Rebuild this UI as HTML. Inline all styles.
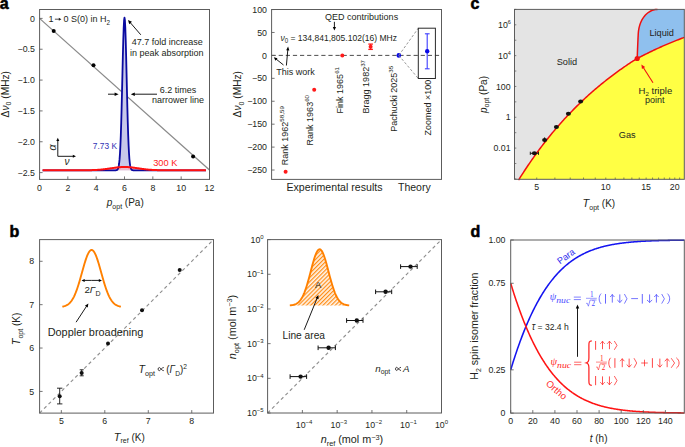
<!DOCTYPE html>
<html><head><meta charset="utf-8"><style>
html,body{margin:0;padding:0;background:#fff;width:685px;height:447px;overflow:hidden}
svg{display:block;font-family:"Liberation Sans",sans-serif}
</style></head><body>
<svg width="685" height="447" viewBox="0 0 685 447">
<rect width="685" height="447" fill="#fff"/>
<text x="-0.30" y="8.60" font-size="16" fill="#000" font-weight="bold"  stroke="#000" stroke-width="0.55">a</text>
<line x1="39.50" y1="18.40" x2="209.50" y2="170.00" stroke="#8a8a8a" stroke-width="1.25" />
<path d="M112.62,170.30 L113.03,170.30 L113.44,170.30 L113.85,170.30 L114.26,170.30 L114.67,170.30 L115.08,170.29 L115.49,170.28 L115.90,170.25 L116.30,170.19 L116.71,170.08 L117.12,169.88 L117.53,169.50 L117.94,168.84 L118.35,167.74 L118.76,165.97 L119.17,163.23 L119.58,159.17 L119.99,153.40 L120.40,145.55 L120.81,135.35 L121.22,122.70 L121.63,107.79 L122.04,91.12 L122.45,73.58 L122.85,56.36 L123.26,40.86 L123.67,28.48 L124.08,20.45 L124.49,17.60 L124.90,20.24 L125.31,28.08 L125.72,40.32 L126.13,55.73 L126.54,72.91 L126.95,90.46 L127.36,107.18 L127.77,122.17 L128.18,134.91 L128.59,145.21 L129.00,153.14 L129.40,158.98 L129.81,163.10 L130.22,165.88 L130.63,167.69 L131.04,168.81 L131.45,169.48 L131.86,169.87 L132.27,170.08 L132.68,170.19 L133.09,170.25 L133.50,170.28 L133.91,170.29 L134.32,170.30 L134.73,170.30 L135.14,170.30 L135.55,170.30 L135.95,170.30 L136.36,170.30Z" fill="#c9c9ea" stroke="none" />
<path d="M84.78,170.26 L85.19,170.25 L85.60,170.25 L86.01,170.24 L86.42,170.24 L86.83,170.23 L87.24,170.23 L87.65,170.22 L88.06,170.21 L88.47,170.21 L88.88,170.20 L89.29,170.19 L89.70,170.18 L90.10,170.17 L90.51,170.16 L90.92,170.15 L91.33,170.14 L91.74,170.13 L92.15,170.11 L92.56,170.10 L92.97,170.08 L93.38,170.07 L93.79,170.05 L94.20,170.03 L94.61,170.02 L95.02,170.00 L95.43,169.98 L95.84,169.95 L96.25,169.93 L96.65,169.91 L97.06,169.88 L97.47,169.86 L97.88,169.83 L98.29,169.80 L98.70,169.77 L99.11,169.74 L99.52,169.70 L99.93,169.67 L100.34,169.63 L100.75,169.60 L101.16,169.56 L101.57,169.52 L101.98,169.48 L102.39,169.44 L102.80,169.39 L103.20,169.35 L103.61,169.30 L104.02,169.26 L104.43,169.21 L104.84,169.16 L105.25,169.11 L105.66,169.05 L106.07,169.00 L106.48,168.95 L106.89,168.89 L107.30,168.83 L107.71,168.78 L108.12,168.72 L108.53,168.66 L108.94,168.60 L109.35,168.54 L109.75,168.48 L110.16,168.42 L110.57,168.36 L110.98,168.30 L111.39,168.24 L111.80,168.18 L112.21,168.12 L112.62,168.06 L113.03,168.00 L113.44,167.94 L113.85,167.88 L114.26,167.83 L114.67,167.77 L115.08,167.71 L115.49,167.66 L115.90,167.61 L116.30,167.56 L116.71,167.51 L117.12,167.46 L117.53,167.41 L117.94,167.37 L118.35,167.33 L118.76,167.29 L119.17,167.25 L119.58,167.21 L119.99,167.18 L120.40,167.15 L120.81,167.12 L121.22,167.10 L121.63,167.07 L122.04,167.05 L122.45,167.04 L122.85,167.02 L123.26,167.01 L123.67,167.01 L124.08,167.00 L124.49,167.00 L124.90,167.00 L125.31,167.01 L125.72,167.01 L126.13,167.02 L126.54,167.04 L126.95,167.05 L127.36,167.07 L127.77,167.10 L128.18,167.12 L128.59,167.15 L129.00,167.18 L129.40,167.21 L129.81,167.25 L130.22,167.28 L130.63,167.32 L131.04,167.37 L131.45,167.41 L131.86,167.46 L132.27,167.50 L132.68,167.55 L133.09,167.60 L133.50,167.66 L133.91,167.71 L134.32,167.77 L134.73,167.82 L135.14,167.88 L135.55,167.94 L135.95,168.00 L136.36,168.06 L136.77,168.12 L137.18,168.18 L137.59,168.24 L138.00,168.30 L138.41,168.36 L138.82,168.42 L139.23,168.48 L139.64,168.54 L140.05,168.60 L140.46,168.66 L140.87,168.72 L141.28,168.78 L141.69,168.83 L142.10,168.89 L142.50,168.94 L142.91,169.00 L143.32,169.05 L143.73,169.10 L144.14,169.15 L144.55,169.20 L144.96,169.25 L145.37,169.30 L145.78,169.35 L146.19,169.39 L146.60,169.44 L147.01,169.48 L147.42,169.52 L147.83,169.56 L148.24,169.60 L148.65,169.63 L149.05,169.67 L149.46,169.70 L149.87,169.74 L150.28,169.77 L150.69,169.80 L151.10,169.83 L151.51,169.85 L151.92,169.88 L152.33,169.91 L152.74,169.93 L153.15,169.95 L153.56,169.97 L153.97,170.00 L154.38,170.01 L154.79,170.03 L155.20,170.05 L155.60,170.07 L156.01,170.08 L156.42,170.10 L156.83,170.11 L157.24,170.13 L157.65,170.14 L158.06,170.15 L158.47,170.16 L158.88,170.17 L159.29,170.18 L159.70,170.19 L160.11,170.20 L160.52,170.21 L160.93,170.21 L161.34,170.22 L161.75,170.23 L162.15,170.23 L162.56,170.24 L162.97,170.24 L163.38,170.25 L163.79,170.25 L164.20,170.26Z" fill="#f3b8c8" stroke="none" opacity="0.85"/>
<path d="M42.62,170.30 L43.03,170.30 L43.44,170.30 L43.84,170.30 L44.25,170.30 L44.66,170.30 L45.07,170.30 L45.48,170.30 L45.89,170.30 L46.30,170.30 L46.71,170.30 L47.12,170.30 L47.53,170.30 L47.94,170.30 L48.35,170.30 L48.76,170.30 L49.17,170.30 L49.58,170.30 L49.99,170.30 L50.39,170.30 L50.80,170.30 L51.21,170.30 L51.62,170.30 L52.03,170.30 L52.44,170.30 L52.85,170.30 L53.26,170.30 L53.67,170.30 L54.08,170.30 L54.49,170.30 L54.90,170.30 L55.31,170.30 L55.72,170.30 L56.13,170.30 L56.54,170.30 L56.94,170.30 L57.35,170.30 L57.76,170.30 L58.17,170.30 L58.58,170.30 L58.99,170.30 L59.40,170.30 L59.81,170.30 L60.22,170.30 L60.63,170.30 L61.04,170.30 L61.45,170.30 L61.86,170.30 L62.27,170.30 L62.68,170.30 L63.09,170.30 L63.49,170.30 L63.90,170.30 L64.31,170.30 L64.72,170.30 L65.13,170.30 L65.54,170.30 L65.95,170.30 L66.36,170.30 L66.77,170.30 L67.18,170.30 L67.59,170.30 L68.00,170.30 L68.41,170.30 L68.82,170.30 L69.23,170.30 L69.64,170.30 L70.04,170.30 L70.45,170.30 L70.86,170.30 L71.27,170.30 L71.68,170.30 L72.09,170.30 L72.50,170.30 L72.91,170.30 L73.32,170.30 L73.73,170.30 L74.14,170.30 L74.55,170.30 L74.96,170.30 L75.37,170.30 L75.78,170.30 L76.19,170.30 L76.60,170.30 L77.00,170.30 L77.41,170.30 L77.82,170.30 L78.23,170.30 L78.64,170.30 L79.05,170.30 L79.46,170.30 L79.87,170.30 L80.28,170.30 L80.69,170.30 L81.10,170.30 L81.51,170.30 L81.92,170.30 L82.33,170.30 L82.74,170.30 L83.15,170.30 L83.55,170.30 L83.96,170.30 L84.37,170.30 L84.78,170.30 L85.19,170.30 L85.60,170.30 L86.01,170.30 L86.42,170.30 L86.83,170.30 L87.24,170.30 L87.65,170.30 L88.06,170.30 L88.47,170.30 L88.88,170.30 L89.29,170.30 L89.70,170.30 L90.10,170.30 L90.51,170.30 L90.92,170.30 L91.33,170.30 L91.74,170.30 L92.15,170.30 L92.56,170.30 L92.97,170.30 L93.38,170.30 L93.79,170.30 L94.20,170.30 L94.61,170.30 L95.02,170.30 L95.43,170.30 L95.84,170.30 L96.25,170.30 L96.65,170.30 L97.06,170.30 L97.47,170.30 L97.88,170.30 L98.29,170.30 L98.70,170.30 L99.11,170.30 L99.52,170.30 L99.93,170.30 L100.34,170.30 L100.75,170.30 L101.16,170.30 L101.57,170.30 L101.98,170.30 L102.39,170.30 L102.80,170.30 L103.20,170.30 L103.61,170.30 L104.02,170.30 L104.43,170.30 L104.84,170.30 L105.25,170.30 L105.66,170.30 L106.07,170.30 L106.48,170.30 L106.89,170.30 L107.30,170.30 L107.71,170.30 L108.12,170.30 L108.53,170.30 L108.94,170.30 L109.35,170.30 L109.75,170.30 L110.16,170.30 L110.57,170.30 L110.98,170.30 L111.39,170.30 L111.80,170.30 L112.21,170.30 L112.62,170.30 L113.03,170.30 L113.44,170.30 L113.85,170.30 L114.26,170.30 L114.67,170.30 L115.08,170.29 L115.49,170.28 L115.90,170.25 L116.30,170.19 L116.71,170.08 L117.12,169.88 L117.53,169.50 L117.94,168.84 L118.35,167.74 L118.76,165.97 L119.17,163.23 L119.58,159.17 L119.99,153.40 L120.40,145.55 L120.81,135.35 L121.22,122.70 L121.63,107.79 L122.04,91.12 L122.45,73.58 L122.85,56.36 L123.26,40.86 L123.67,28.48 L124.08,20.45 L124.49,17.60 L124.90,20.24 L125.31,28.08 L125.72,40.32 L126.13,55.73 L126.54,72.91 L126.95,90.46 L127.36,107.18 L127.77,122.17 L128.18,134.91 L128.59,145.21 L129.00,153.14 L129.40,158.98 L129.81,163.10 L130.22,165.88 L130.63,167.69 L131.04,168.81 L131.45,169.48 L131.86,169.87 L132.27,170.08 L132.68,170.19 L133.09,170.25 L133.50,170.28 L133.91,170.29 L134.32,170.30 L134.73,170.30 L135.14,170.30 L135.55,170.30 L135.95,170.30 L136.36,170.30 L136.77,170.30 L137.18,170.30 L137.59,170.30 L138.00,170.30 L138.41,170.30 L138.82,170.30 L139.23,170.30 L139.64,170.30 L140.05,170.30 L140.46,170.30 L140.87,170.30 L141.28,170.30 L141.69,170.30 L142.10,170.30 L142.50,170.30 L142.91,170.30 L143.32,170.30 L143.73,170.30 L144.14,170.30 L144.55,170.30 L144.96,170.30 L145.37,170.30 L145.78,170.30 L146.19,170.30 L146.60,170.30 L147.01,170.30 L147.42,170.30 L147.83,170.30 L148.24,170.30 L148.65,170.30 L149.05,170.30 L149.46,170.30 L149.87,170.30 L150.28,170.30 L150.69,170.30 L151.10,170.30 L151.51,170.30 L151.92,170.30 L152.33,170.30 L152.74,170.30 L153.15,170.30 L153.56,170.30 L153.97,170.30 L154.38,170.30 L154.79,170.30 L155.20,170.30 L155.60,170.30 L156.01,170.30 L156.42,170.30 L156.83,170.30 L157.24,170.30 L157.65,170.30 L158.06,170.30 L158.47,170.30 L158.88,170.30 L159.29,170.30 L159.70,170.30 L160.11,170.30 L160.52,170.30 L160.93,170.30 L161.34,170.30 L161.75,170.30 L162.15,170.30 L162.56,170.30 L162.97,170.30 L163.38,170.30 L163.79,170.30 L164.20,170.30 L164.61,170.30 L165.02,170.30 L165.43,170.30 L165.84,170.30 L166.25,170.30 L166.66,170.30 L167.07,170.30 L167.48,170.30 L167.89,170.30 L168.30,170.30 L168.70,170.30 L169.11,170.30 L169.52,170.30 L169.93,170.30 L170.34,170.30 L170.75,170.30 L171.16,170.30 L171.57,170.30 L171.98,170.30 L172.39,170.30 L172.80,170.30 L173.21,170.30 L173.62,170.30 L174.03,170.30 L174.44,170.30 L174.85,170.30 L175.26,170.30 L175.66,170.30 L176.07,170.30 L176.48,170.30 L176.89,170.30 L177.30,170.30 L177.71,170.30 L178.12,170.30 L178.53,170.30 L178.94,170.30 L179.35,170.30 L179.76,170.30 L180.17,170.30 L180.58,170.30 L180.99,170.30 L181.40,170.30 L181.81,170.30 L182.21,170.30 L182.62,170.30 L183.03,170.30 L183.44,170.30 L183.85,170.30 L184.26,170.30 L184.67,170.30 L185.08,170.30 L185.49,170.30 L185.90,170.30 L186.31,170.30 L186.72,170.30 L187.13,170.30 L187.54,170.30 L187.95,170.30 L188.36,170.30 L188.76,170.30 L189.17,170.30 L189.58,170.30 L189.99,170.30 L190.40,170.30 L190.81,170.30 L191.22,170.30 L191.63,170.30 L192.04,170.30 L192.45,170.30 L192.86,170.30 L193.27,170.30 L193.68,170.30 L194.09,170.30 L194.50,170.30 L194.91,170.30 L195.31,170.30 L195.72,170.30 L196.13,170.30 L196.54,170.30 L196.95,170.30 L197.36,170.30 L197.77,170.30 L198.18,170.30 L198.59,170.30 L199.00,170.30 L199.41,170.30 L199.82,170.30 L200.23,170.30 L200.64,170.30 L201.05,170.30 L201.46,170.30 L201.86,170.30 L202.27,170.30 L202.68,170.30 L203.09,170.30 L203.50,170.30 L203.91,170.30 L204.32,170.30 L204.73,170.30 L205.14,170.30 L205.55,170.30 L205.96,170.30" stroke="#0a0aa0" stroke-width="1.8" fill="none" stroke-linejoin="round"/>
<path d="M42.62,170.30 L43.03,170.30 L43.44,170.30 L43.84,170.30 L44.25,170.30 L44.66,170.30 L45.07,170.30 L45.48,170.30 L45.89,170.30 L46.30,170.30 L46.71,170.30 L47.12,170.30 L47.53,170.30 L47.94,170.30 L48.35,170.30 L48.76,170.30 L49.17,170.30 L49.58,170.30 L49.99,170.30 L50.39,170.30 L50.80,170.30 L51.21,170.30 L51.62,170.30 L52.03,170.30 L52.44,170.30 L52.85,170.30 L53.26,170.30 L53.67,170.30 L54.08,170.30 L54.49,170.30 L54.90,170.30 L55.31,170.30 L55.72,170.30 L56.13,170.30 L56.54,170.30 L56.94,170.30 L57.35,170.30 L57.76,170.30 L58.17,170.30 L58.58,170.30 L58.99,170.30 L59.40,170.30 L59.81,170.30 L60.22,170.30 L60.63,170.30 L61.04,170.30 L61.45,170.30 L61.86,170.30 L62.27,170.30 L62.68,170.30 L63.09,170.30 L63.49,170.30 L63.90,170.30 L64.31,170.30 L64.72,170.30 L65.13,170.30 L65.54,170.30 L65.95,170.30 L66.36,170.30 L66.77,170.30 L67.18,170.30 L67.59,170.30 L68.00,170.30 L68.41,170.30 L68.82,170.30 L69.23,170.30 L69.64,170.30 L70.04,170.30 L70.45,170.30 L70.86,170.30 L71.27,170.30 L71.68,170.30 L72.09,170.30 L72.50,170.30 L72.91,170.30 L73.32,170.30 L73.73,170.30 L74.14,170.30 L74.55,170.30 L74.96,170.30 L75.37,170.30 L75.78,170.30 L76.19,170.29 L76.60,170.29 L77.00,170.29 L77.41,170.29 L77.82,170.29 L78.23,170.29 L78.64,170.29 L79.05,170.29 L79.46,170.29 L79.87,170.29 L80.28,170.28 L80.69,170.28 L81.10,170.28 L81.51,170.28 L81.92,170.28 L82.33,170.27 L82.74,170.27 L83.15,170.27 L83.55,170.27 L83.96,170.26 L84.37,170.26 L84.78,170.26 L85.19,170.25 L85.60,170.25 L86.01,170.24 L86.42,170.24 L86.83,170.23 L87.24,170.23 L87.65,170.22 L88.06,170.21 L88.47,170.21 L88.88,170.20 L89.29,170.19 L89.70,170.18 L90.10,170.17 L90.51,170.16 L90.92,170.15 L91.33,170.14 L91.74,170.13 L92.15,170.11 L92.56,170.10 L92.97,170.08 L93.38,170.07 L93.79,170.05 L94.20,170.03 L94.61,170.02 L95.02,170.00 L95.43,169.98 L95.84,169.95 L96.25,169.93 L96.65,169.91 L97.06,169.88 L97.47,169.86 L97.88,169.83 L98.29,169.80 L98.70,169.77 L99.11,169.74 L99.52,169.70 L99.93,169.67 L100.34,169.63 L100.75,169.60 L101.16,169.56 L101.57,169.52 L101.98,169.48 L102.39,169.44 L102.80,169.39 L103.20,169.35 L103.61,169.30 L104.02,169.26 L104.43,169.21 L104.84,169.16 L105.25,169.11 L105.66,169.05 L106.07,169.00 L106.48,168.95 L106.89,168.89 L107.30,168.83 L107.71,168.78 L108.12,168.72 L108.53,168.66 L108.94,168.60 L109.35,168.54 L109.75,168.48 L110.16,168.42 L110.57,168.36 L110.98,168.30 L111.39,168.24 L111.80,168.18 L112.21,168.12 L112.62,168.06 L113.03,168.00 L113.44,167.94 L113.85,167.88 L114.26,167.83 L114.67,167.77 L115.08,167.71 L115.49,167.66 L115.90,167.61 L116.30,167.56 L116.71,167.51 L117.12,167.46 L117.53,167.41 L117.94,167.37 L118.35,167.33 L118.76,167.29 L119.17,167.25 L119.58,167.21 L119.99,167.18 L120.40,167.15 L120.81,167.12 L121.22,167.10 L121.63,167.07 L122.04,167.05 L122.45,167.04 L122.85,167.02 L123.26,167.01 L123.67,167.01 L124.08,167.00 L124.49,167.00 L124.90,167.00 L125.31,167.01 L125.72,167.01 L126.13,167.02 L126.54,167.04 L126.95,167.05 L127.36,167.07 L127.77,167.10 L128.18,167.12 L128.59,167.15 L129.00,167.18 L129.40,167.21 L129.81,167.25 L130.22,167.28 L130.63,167.32 L131.04,167.37 L131.45,167.41 L131.86,167.46 L132.27,167.50 L132.68,167.55 L133.09,167.60 L133.50,167.66 L133.91,167.71 L134.32,167.77 L134.73,167.82 L135.14,167.88 L135.55,167.94 L135.95,168.00 L136.36,168.06 L136.77,168.12 L137.18,168.18 L137.59,168.24 L138.00,168.30 L138.41,168.36 L138.82,168.42 L139.23,168.48 L139.64,168.54 L140.05,168.60 L140.46,168.66 L140.87,168.72 L141.28,168.78 L141.69,168.83 L142.10,168.89 L142.50,168.94 L142.91,169.00 L143.32,169.05 L143.73,169.10 L144.14,169.15 L144.55,169.20 L144.96,169.25 L145.37,169.30 L145.78,169.35 L146.19,169.39 L146.60,169.44 L147.01,169.48 L147.42,169.52 L147.83,169.56 L148.24,169.60 L148.65,169.63 L149.05,169.67 L149.46,169.70 L149.87,169.74 L150.28,169.77 L150.69,169.80 L151.10,169.83 L151.51,169.85 L151.92,169.88 L152.33,169.91 L152.74,169.93 L153.15,169.95 L153.56,169.97 L153.97,170.00 L154.38,170.01 L154.79,170.03 L155.20,170.05 L155.60,170.07 L156.01,170.08 L156.42,170.10 L156.83,170.11 L157.24,170.13 L157.65,170.14 L158.06,170.15 L158.47,170.16 L158.88,170.17 L159.29,170.18 L159.70,170.19 L160.11,170.20 L160.52,170.21 L160.93,170.21 L161.34,170.22 L161.75,170.23 L162.15,170.23 L162.56,170.24 L162.97,170.24 L163.38,170.25 L163.79,170.25 L164.20,170.26 L164.61,170.26 L165.02,170.26 L165.43,170.27 L165.84,170.27 L166.25,170.27 L166.66,170.27 L167.07,170.28 L167.48,170.28 L167.89,170.28 L168.30,170.28 L168.70,170.28 L169.11,170.29 L169.52,170.29 L169.93,170.29 L170.34,170.29 L170.75,170.29 L171.16,170.29 L171.57,170.29 L171.98,170.29 L172.39,170.29 L172.80,170.29 L173.21,170.30 L173.62,170.30 L174.03,170.30 L174.44,170.30 L174.85,170.30 L175.26,170.30 L175.66,170.30 L176.07,170.30 L176.48,170.30 L176.89,170.30 L177.30,170.30 L177.71,170.30 L178.12,170.30 L178.53,170.30 L178.94,170.30 L179.35,170.30 L179.76,170.30 L180.17,170.30 L180.58,170.30 L180.99,170.30 L181.40,170.30 L181.81,170.30 L182.21,170.30 L182.62,170.30 L183.03,170.30 L183.44,170.30 L183.85,170.30 L184.26,170.30 L184.67,170.30 L185.08,170.30 L185.49,170.30 L185.90,170.30 L186.31,170.30 L186.72,170.30 L187.13,170.30 L187.54,170.30 L187.95,170.30 L188.36,170.30 L188.76,170.30 L189.17,170.30 L189.58,170.30 L189.99,170.30 L190.40,170.30 L190.81,170.30 L191.22,170.30 L191.63,170.30 L192.04,170.30 L192.45,170.30 L192.86,170.30 L193.27,170.30 L193.68,170.30 L194.09,170.30 L194.50,170.30 L194.91,170.30 L195.31,170.30 L195.72,170.30 L196.13,170.30 L196.54,170.30 L196.95,170.30 L197.36,170.30 L197.77,170.30 L198.18,170.30 L198.59,170.30 L199.00,170.30 L199.41,170.30 L199.82,170.30 L200.23,170.30 L200.64,170.30 L201.05,170.30 L201.46,170.30 L201.86,170.30 L202.27,170.30 L202.68,170.30 L203.09,170.30 L203.50,170.30 L203.91,170.30 L204.32,170.30 L204.73,170.30 L205.14,170.30 L205.55,170.30 L205.96,170.30" stroke="#ff1010" stroke-width="2.0" fill="none" stroke-linejoin="round"/>
<circle cx="53.70" cy="30.90" r="2.0" fill="#000" />
<circle cx="93.50" cy="65.30" r="2.0" fill="#000" />
<circle cx="193.10" cy="156.50" r="2.0" fill="#000" />
<rect x="39.60" y="9.50" width="169.90" height="169.90" fill="none" stroke="#5c5c5c" stroke-width="1"/>
<line x1="39.60" y1="18.40" x2="42.60" y2="18.40" stroke="#5c5c5c" stroke-width="0.85" />
<text x="34.90" y="21.50" font-size="8.8" fill="#231f20" text-anchor="end" >0</text>
<line x1="39.60" y1="49.24" x2="42.60" y2="49.24" stroke="#5c5c5c" stroke-width="0.85" />
<text x="34.90" y="52.34" font-size="8.8" fill="#231f20" text-anchor="end" >−0.5</text>
<line x1="39.60" y1="80.08" x2="42.60" y2="80.08" stroke="#5c5c5c" stroke-width="0.85" />
<text x="34.90" y="83.18" font-size="8.8" fill="#231f20" text-anchor="end" >−1.0</text>
<line x1="39.60" y1="110.92" x2="42.60" y2="110.92" stroke="#5c5c5c" stroke-width="0.85" />
<text x="34.90" y="114.02" font-size="8.8" fill="#231f20" text-anchor="end" >−1.5</text>
<line x1="39.60" y1="141.76" x2="42.60" y2="141.76" stroke="#5c5c5c" stroke-width="0.85" />
<text x="34.90" y="144.86" font-size="8.8" fill="#231f20" text-anchor="end" >−2.0</text>
<line x1="39.60" y1="172.60" x2="42.60" y2="172.60" stroke="#5c5c5c" stroke-width="0.85" />
<text x="34.90" y="175.70" font-size="8.8" fill="#231f20" text-anchor="end" >−2.5</text>
<line x1="39.50" y1="179.40" x2="39.50" y2="176.40" stroke="#5c5c5c" stroke-width="0.85" />
<text x="39.50" y="190.80" font-size="8.8" fill="#231f20" text-anchor="middle" >0</text>
<line x1="67.83" y1="179.40" x2="67.83" y2="176.40" stroke="#5c5c5c" stroke-width="0.85" />
<text x="67.83" y="190.80" font-size="8.8" fill="#231f20" text-anchor="middle" >2</text>
<line x1="96.17" y1="179.40" x2="96.17" y2="176.40" stroke="#5c5c5c" stroke-width="0.85" />
<text x="96.17" y="190.80" font-size="8.8" fill="#231f20" text-anchor="middle" >4</text>
<line x1="124.50" y1="179.40" x2="124.50" y2="176.40" stroke="#5c5c5c" stroke-width="0.85" />
<text x="124.50" y="190.80" font-size="8.8" fill="#231f20" text-anchor="middle" >6</text>
<line x1="152.83" y1="179.40" x2="152.83" y2="176.40" stroke="#5c5c5c" stroke-width="0.85" />
<text x="152.83" y="190.80" font-size="8.8" fill="#231f20" text-anchor="middle" >8</text>
<line x1="181.17" y1="179.40" x2="181.17" y2="176.40" stroke="#5c5c5c" stroke-width="0.85" />
<text x="181.17" y="190.80" font-size="8.8" fill="#231f20" text-anchor="middle" >10</text>
<line x1="209.50" y1="179.40" x2="209.50" y2="176.40" stroke="#5c5c5c" stroke-width="0.85" />
<text x="209.50" y="190.80" font-size="8.8" fill="#231f20" text-anchor="middle" >12</text>
<text x="106.8" y="205.9" font-size="10" fill="#231f20"><tspan font-style="italic">p</tspan><tspan font-size="7" dy="2.6">opt</tspan><tspan dy="-2.6"> (Pa)</tspan></text>
<text transform="translate(8.8,94.2) rotate(-90)" text-anchor="middle" font-size="10.2" fill="#231f20">Δ<tspan font-style="italic">ν</tspan><tspan font-size="7" dy="2.6">0</tspan><tspan dy="-2.6"> (MHz)</tspan></text>
<text x="48.60" y="22.30" font-size="9.0" fill="#231f20" >1</text>
<line x1="54.90" y1="19.20" x2="59.30" y2="19.20" stroke="#231f20" stroke-width="0.8" />
<path d="M61.40,19.20 L58.80,20.70 L58.80,17.70 Z" fill="#231f20"/>
<text x="63.4" y="22.3" font-size="9.0" fill="#231f20">0 S(0) in H<tspan font-size="6.3" dy="2.4">2</tspan></text>
<line x1="140.80" y1="34.80" x2="130.29" y2="22.65" stroke="#000" stroke-width="0.9" />
<path d="M128.00,20.00 L131.98,21.85 L129.26,24.20 Z" fill="#000"/>
<text x="131.70" y="45.30" font-size="9" fill="#231f20" >47.7 fold increase</text>
<text x="130.00" y="55.90" font-size="9" fill="#231f20" >in peak absorption</text>
<text x="159.80" y="92.60" font-size="9" fill="#231f20" >6.2 times</text>
<text x="151.90" y="103.00" font-size="9" fill="#231f20" >narrower line</text>
<line x1="108.00" y1="94.20" x2="115.10" y2="94.20" stroke="#000" stroke-width="0.9" />
<path d="M118.60,94.20 L114.60,96.00 L114.60,92.40 Z" fill="#000"/>
<line x1="157.00" y1="94.20" x2="134.30" y2="94.20" stroke="#000" stroke-width="0.9" />
<path d="M130.80,94.20 L134.80,92.40 L134.80,96.00 Z" fill="#000"/>
<text x="92.80" y="149.30" font-size="9" fill="#3131b5" textLength="24.2" lengthAdjust="spacingAndGlyphs" >7.73 K</text>
<text x="153.20" y="166.10" font-size="9.2" fill="#ff2020" textLength="24.2" lengthAdjust="spacingAndGlyphs" >300 K</text>
<line x1="57.80" y1="156.30" x2="57.80" y2="140.50" stroke="#000" stroke-width="0.9" />
<path d="M57.80,137.80 L59.30,141.00 L56.30,141.00 Z" fill="#000"/>
<line x1="57.80" y1="156.30" x2="73.30" y2="156.30" stroke="#000" stroke-width="0.9" />
<path d="M76.00,156.30 L72.80,157.80 L72.80,154.80 Z" fill="#000"/>
<text transform="translate(55.6,147.4) rotate(-90)" text-anchor="middle" font-size="10.5" font-style="italic" fill="#231f20">α</text>
<text x="66.90" y="164.80" font-size="10" fill="#231f20" text-anchor="middle" font-style="italic" >ν</text>
<line x1="271.60" y1="55.40" x2="441.50" y2="55.40" stroke="#3a3a3a" stroke-width="0.9" stroke-dasharray="4.2 2.9"/>
<rect x="271.60" y="9.50" width="169.90" height="169.90" fill="none" stroke="#5c5c5c" stroke-width="1"/>
<line x1="271.60" y1="9.55" x2="274.60" y2="9.55" stroke="#5c5c5c" stroke-width="0.85" />
<text x="267.00" y="12.65" font-size="8.8" fill="#231f20" text-anchor="end" >100</text>
<line x1="271.60" y1="32.47" x2="274.60" y2="32.47" stroke="#5c5c5c" stroke-width="0.85" />
<text x="267.00" y="35.57" font-size="8.8" fill="#231f20" text-anchor="end" >50</text>
<line x1="271.60" y1="55.40" x2="274.60" y2="55.40" stroke="#5c5c5c" stroke-width="0.85" />
<text x="267.00" y="58.50" font-size="8.8" fill="#231f20" text-anchor="end" >0</text>
<line x1="271.60" y1="78.33" x2="274.60" y2="78.33" stroke="#5c5c5c" stroke-width="0.85" />
<text x="267.00" y="81.42" font-size="8.8" fill="#231f20" text-anchor="end" >−50</text>
<line x1="271.60" y1="101.25" x2="274.60" y2="101.25" stroke="#5c5c5c" stroke-width="0.85" />
<text x="267.00" y="104.35" font-size="8.8" fill="#231f20" text-anchor="end" >−100</text>
<line x1="271.60" y1="124.18" x2="274.60" y2="124.18" stroke="#5c5c5c" stroke-width="0.85" />
<text x="267.00" y="127.28" font-size="8.8" fill="#231f20" text-anchor="end" >−150</text>
<line x1="271.60" y1="147.10" x2="274.60" y2="147.10" stroke="#5c5c5c" stroke-width="0.85" />
<text x="267.00" y="150.20" font-size="8.8" fill="#231f20" text-anchor="end" >−200</text>
<line x1="271.60" y1="170.03" x2="274.60" y2="170.03" stroke="#5c5c5c" stroke-width="0.85" />
<text x="267.00" y="173.12" font-size="8.8" fill="#231f20" text-anchor="end" >−250</text>
<text transform="translate(240.9,94.2) rotate(-90)" text-anchor="middle" font-size="10.2" fill="#231f20">Δ<tspan font-style="italic">ν</tspan><tspan font-size="7" dy="2.6">0</tspan><tspan dy="-2.6"> (MHz)</tspan></text>
<text x="325.10" y="19.90" font-size="9" fill="#231f20" >QED contributions</text>
<line x1="334.40" y1="21.80" x2="334.40" y2="27.50" stroke="#000" stroke-width="0.9" />
<path d="M334.40,30.50 L332.80,27.00 L336.00,27.00 Z" fill="#000"/>
<text x="280.4" y="40.5" font-size="9" fill="#231f20" textLength="116.6" lengthAdjust="spacingAndGlyphs"><tspan font-style="italic">ν</tspan><tspan font-size="6.5" dy="2.5">0</tspan><tspan dy="-2.5"> = 134,841,805.102(16) MHz</tspan></text>
<line x1="283.50" y1="65.00" x2="276.14" y2="59.08" stroke="#000" stroke-width="0.9" />
<path d="M273.80,57.20 L277.53,58.15 L275.52,60.64 Z" fill="#000"/>
<line x1="286.40" y1="65.50" x2="287.81" y2="49.79" stroke="#000" stroke-width="0.9" />
<path d="M288.10,46.50 L289.35,50.43 L286.17,50.14 Z" fill="#000"/>
<text x="276.20" y="75.40" font-size="9" fill="#231f20" >This work</text>
<text transform="translate(287.60,165.20) rotate(-90)" font-size="9" fill="#231f20">Rank 1962<tspan font-size="6.2" dy="-3.9">58,59</tspan></text>
<text transform="translate(312.80,145.40) rotate(-90)" font-size="9" fill="#231f20">Rank 1963<tspan font-size="6.2" dy="-3.9">60</tspan></text>
<text transform="translate(342.50,113.40) rotate(-90)" font-size="9" fill="#231f20">Fink 1965<tspan font-size="6.2" dy="-3.9">61</tspan></text>
<text transform="translate(369.30,113.40) rotate(-90)" font-size="9" fill="#231f20">Bragg 1982<tspan font-size="6.2" dy="-3.9">37</tspan></text>
<text transform="translate(397.30,131.70) rotate(-90)" font-size="9" fill="#231f20">Pachucki 2025<tspan font-size="6.2" dy="-3.9">35</tspan></text>
<text transform="translate(430.7,135.5) rotate(-90)" font-size="9" fill="#231f20">Zoomed ×100</text>
<circle cx="285.60" cy="171.86" r="2.0" fill="#ff1a1a" />
<circle cx="314.20" cy="89.79" r="2.0" fill="#ff1a1a" />
<circle cx="342.30" cy="55.40" r="2.0" fill="#ff1a1a" />
<line x1="370.60" y1="44.10" x2="370.60" y2="49.40" stroke="#ff1a1a" stroke-width="1.1" />
<line x1="368.30" y1="44.10" x2="372.90" y2="44.10" stroke="#ff1a1a" stroke-width="1.3" />
<line x1="368.30" y1="49.40" x2="372.90" y2="49.40" stroke="#ff1a1a" stroke-width="1.3" />
<circle cx="370.60" cy="46.70" r="2.0" fill="#ff1a1a" />
<circle cx="398.80" cy="55.40" r="2.3" fill="#0a0ae6" />
<line x1="398.80" y1="55.40" x2="418.30" y2="28.20" stroke="#8c8c8c" stroke-width="0.9" stroke-dasharray="2.6 1.9"/>
<line x1="398.80" y1="55.40" x2="418.30" y2="78.50" stroke="#8c8c8c" stroke-width="0.9" stroke-dasharray="2.6 1.9"/>
<rect x="418.3" y="28.2" width="17.1" height="50.3" fill="none" stroke="#2a2a2a" stroke-width="1"/>
<line x1="427.20" y1="33.80" x2="427.20" y2="68.80" stroke="#3c3cff" stroke-width="1.1" />
<line x1="424.90" y1="33.80" x2="429.60" y2="33.80" stroke="#3c3cff" stroke-width="1.1" />
<line x1="424.90" y1="68.80" x2="429.60" y2="68.80" stroke="#3c3cff" stroke-width="1.1" />
<circle cx="427.20" cy="51.30" r="2.2" fill="#0a0ae6" />
<text x="286.50" y="191.10" font-size="10.6" fill="#231f20" >Experimental results</text>
<text x="398.00" y="190.90" font-size="10.5" fill="#231f20" >Theory</text>
<path d="M514.50,9.40 L684.30,9.40 L684.30,179.30 L514.50,179.30Z" fill="#e4e4e4" stroke="none" />
<path d="M518.50,180.15 L519.50,178.55 L520.49,176.96 L521.49,175.39 L522.49,173.83 L523.49,172.29 L524.48,170.76 L525.48,169.24 L526.48,167.74 L527.48,166.25 L528.47,164.77 L529.47,163.30 L530.47,161.85 L531.47,160.41 L532.46,158.98 L533.46,157.56 L534.46,156.16 L535.46,154.76 L536.45,153.38 L537.45,152.01 L538.45,150.66 L539.45,149.31 L540.44,147.98 L541.44,146.65 L542.44,145.34 L543.44,144.04 L544.43,142.75 L545.43,141.47 L546.43,140.20 L547.43,138.94 L548.42,137.70 L549.42,136.46 L550.42,135.23 L551.42,134.01 L552.41,132.81 L553.41,131.61 L554.41,130.43 L555.41,129.25 L556.40,128.08 L557.40,126.92 L558.40,125.78 L559.40,124.64 L560.39,123.51 L561.39,122.39 L562.39,121.28 L563.39,120.17 L564.38,119.08 L565.38,118.00 L566.38,116.92 L567.38,115.85 L568.37,114.80 L569.37,113.75 L570.37,112.70 L571.37,111.67 L572.36,110.65 L573.36,109.63 L574.36,108.62 L575.36,107.62 L576.35,106.63 L577.35,105.64 L578.35,104.67 L579.35,103.70 L580.34,102.74 L581.34,101.78 L582.34,100.84 L583.34,99.90 L584.33,98.97 L585.33,98.04 L586.33,97.12 L587.33,96.21 L588.32,95.31 L589.32,94.41 L590.32,93.52 L591.32,92.64 L592.31,91.77 L593.31,90.90 L594.31,90.03 L595.31,89.18 L596.30,88.33 L597.30,87.49 L598.30,86.65 L599.30,85.82 L600.29,84.99 L601.29,84.18 L602.29,83.36 L603.29,82.56 L604.28,81.76 L605.28,80.97 L606.28,80.18 L607.28,79.40 L608.27,78.62 L609.27,77.85 L610.27,77.08 L611.27,76.32 L612.26,75.57 L613.26,74.82 L614.26,74.08 L615.26,73.34 L616.25,72.61 L617.25,71.88 L618.25,71.16 L619.25,70.44 L620.24,69.73 L621.24,69.02 L622.24,68.32 L623.24,67.63 L624.23,66.93 L625.23,66.25 L626.23,65.56 L627.23,64.89 L628.22,64.21 L629.22,63.55 L630.22,62.88 L631.22,62.22 L632.21,61.57 L633.21,60.92 L634.21,60.27 L635.21,59.63 L636.20,59.00 L637.20,58.50 L638.41,57.86 L639.62,57.23 L640.82,56.61 L642.03,55.99 L643.24,55.37 L644.45,54.76 L645.65,54.15 L646.86,53.55 L648.07,52.96 L649.28,52.37 L650.48,51.78 L651.69,51.20 L652.90,50.62 L654.11,50.05 L655.32,49.49 L656.52,48.92 L657.73,48.37 L658.94,47.82 L660.15,47.27 L661.35,46.73 L662.56,46.19 L663.77,45.66 L664.98,45.14 L666.18,44.62 L667.39,44.10 L668.60,43.59 L669.81,43.08 L671.02,42.58 L672.22,42.09 L673.43,41.60 L674.64,41.11 L675.85,40.63 L677.05,40.15 L678.26,39.68 L679.47,39.21 L680.68,38.75 L681.88,38.30 L683.09,37.85 L684.30,37.40 L684.30,179.30 L518.50,179.30Z" fill="#ffff44" stroke="none" />
<path d="M637.20,58.50 L637.24,57.42 L637.28,56.36 L637.32,55.32 L637.36,54.30 L637.40,53.29 L637.44,52.31 L637.47,51.34 L637.51,50.39 L637.55,49.46 L637.58,48.55 L637.62,47.66 L637.65,46.79 L637.69,45.93 L637.72,45.10 L637.75,44.28 L637.79,43.49 L637.82,42.71 L637.85,41.96 L637.89,41.22 L637.92,40.51 L637.95,39.81 L637.98,39.14 L638.01,38.48 L638.04,37.85 L638.08,37.24 L638.11,36.65 L638.14,36.08 L638.17,35.53 L638.20,35.00 L638.27,33.46 L638.39,31.96 L638.57,30.50 L638.81,29.07 L639.09,27.68 L639.42,26.33 L639.81,25.02 L640.23,23.75 L640.71,22.53 L641.23,21.35 L641.79,20.22 L642.39,19.14 L643.03,18.11 L643.71,17.12 L644.43,16.19 L645.18,15.31 L645.96,14.49 L646.78,13.72 L647.63,13.02 L648.51,12.37 L649.41,11.78 L650.35,11.25 L651.30,10.78 L652.29,10.38 L653.29,10.05 L654.32,9.78 L655.36,9.59 L656.42,9.46 L657.50,9.40 L684.30,9.40 L684.30,37.40 L683.09,37.85 L681.88,38.30 L680.68,38.75 L679.47,39.21 L678.26,39.68 L677.05,40.15 L675.85,40.63 L674.64,41.11 L673.43,41.60 L672.22,42.09 L671.02,42.58 L669.81,43.08 L668.60,43.59 L667.39,44.10 L666.18,44.62 L664.98,45.14 L663.77,45.66 L662.56,46.19 L661.35,46.73 L660.15,47.27 L658.94,47.82 L657.73,48.37 L656.52,48.92 L655.32,49.49 L654.11,50.05 L652.90,50.62 L651.69,51.20 L650.48,51.78 L649.28,52.37 L648.07,52.96 L646.86,53.55 L645.65,54.15 L644.45,54.76 L643.24,55.37 L642.03,55.99 L640.82,56.61 L639.62,57.23 L638.41,57.86 L637.20,58.50Z" fill="#8fc0ee" stroke="none" />
<path d="M518.50,180.15 L519.50,178.55 L520.49,176.96 L521.49,175.39 L522.49,173.83 L523.49,172.29 L524.48,170.76 L525.48,169.24 L526.48,167.74 L527.48,166.25 L528.47,164.77 L529.47,163.30 L530.47,161.85 L531.47,160.41 L532.46,158.98 L533.46,157.56 L534.46,156.16 L535.46,154.76 L536.45,153.38 L537.45,152.01 L538.45,150.66 L539.45,149.31 L540.44,147.98 L541.44,146.65 L542.44,145.34 L543.44,144.04 L544.43,142.75 L545.43,141.47 L546.43,140.20 L547.43,138.94 L548.42,137.70 L549.42,136.46 L550.42,135.23 L551.42,134.01 L552.41,132.81 L553.41,131.61 L554.41,130.43 L555.41,129.25 L556.40,128.08 L557.40,126.92 L558.40,125.78 L559.40,124.64 L560.39,123.51 L561.39,122.39 L562.39,121.28 L563.39,120.17 L564.38,119.08 L565.38,118.00 L566.38,116.92 L567.38,115.85 L568.37,114.80 L569.37,113.75 L570.37,112.70 L571.37,111.67 L572.36,110.65 L573.36,109.63 L574.36,108.62 L575.36,107.62 L576.35,106.63 L577.35,105.64 L578.35,104.67 L579.35,103.70 L580.34,102.74 L581.34,101.78 L582.34,100.84 L583.34,99.90 L584.33,98.97 L585.33,98.04 L586.33,97.12 L587.33,96.21 L588.32,95.31 L589.32,94.41 L590.32,93.52 L591.32,92.64 L592.31,91.77 L593.31,90.90 L594.31,90.03 L595.31,89.18 L596.30,88.33 L597.30,87.49 L598.30,86.65 L599.30,85.82 L600.29,84.99 L601.29,84.18 L602.29,83.36 L603.29,82.56 L604.28,81.76 L605.28,80.97 L606.28,80.18 L607.28,79.40 L608.27,78.62 L609.27,77.85 L610.27,77.08 L611.27,76.32 L612.26,75.57 L613.26,74.82 L614.26,74.08 L615.26,73.34 L616.25,72.61 L617.25,71.88 L618.25,71.16 L619.25,70.44 L620.24,69.73 L621.24,69.02 L622.24,68.32 L623.24,67.63 L624.23,66.93 L625.23,66.25 L626.23,65.56 L627.23,64.89 L628.22,64.21 L629.22,63.55 L630.22,62.88 L631.22,62.22 L632.21,61.57 L633.21,60.92 L634.21,60.27 L635.21,59.63 L636.20,59.00 L637.20,58.50 L638.41,57.86 L639.62,57.23 L640.82,56.61 L642.03,55.99 L643.24,55.37 L644.45,54.76 L645.65,54.15 L646.86,53.55 L648.07,52.96 L649.28,52.37 L650.48,51.78 L651.69,51.20 L652.90,50.62 L654.11,50.05 L655.32,49.49 L656.52,48.92 L657.73,48.37 L658.94,47.82 L660.15,47.27 L661.35,46.73 L662.56,46.19 L663.77,45.66 L664.98,45.14 L666.18,44.62 L667.39,44.10 L668.60,43.59 L669.81,43.08 L671.02,42.58 L672.22,42.09 L673.43,41.60 L674.64,41.11 L675.85,40.63 L677.05,40.15 L678.26,39.68 L679.47,39.21 L680.68,38.75 L681.88,38.30 L683.09,37.85 L684.30,37.40" stroke="#f01010" stroke-width="1.5" fill="none" />
<path d="M637.20,58.50 L637.24,57.42 L637.28,56.36 L637.32,55.32 L637.36,54.30 L637.40,53.29 L637.44,52.31 L637.47,51.34 L637.51,50.39 L637.55,49.46 L637.58,48.55 L637.62,47.66 L637.65,46.79 L637.69,45.93 L637.72,45.10 L637.75,44.28 L637.79,43.49 L637.82,42.71 L637.85,41.96 L637.89,41.22 L637.92,40.51 L637.95,39.81 L637.98,39.14 L638.01,38.48 L638.04,37.85 L638.08,37.24 L638.11,36.65 L638.14,36.08 L638.17,35.53 L638.20,35.00 L638.27,33.46 L638.39,31.96 L638.57,30.50 L638.81,29.07 L639.09,27.68 L639.42,26.33 L639.81,25.02 L640.23,23.75 L640.71,22.53 L641.23,21.35 L641.79,20.22 L642.39,19.14 L643.03,18.11 L643.71,17.12 L644.43,16.19 L645.18,15.31 L645.96,14.49 L646.78,13.72 L647.63,13.02 L648.51,12.37 L649.41,11.78 L650.35,11.25 L651.30,10.78 L652.29,10.38 L653.29,10.05 L654.32,9.78 L655.36,9.59 L656.42,9.46 L657.50,9.40" stroke="#f01010" stroke-width="1.5" fill="none" />
<circle cx="637.20" cy="58.50" r="2.6" fill="#ee1111" />
<line x1="653.00" y1="82.70" x2="643.29" y2="67.55" stroke="#f01010" stroke-width="1.1" />
<path d="M641.40,64.60 L645.16,66.94 L641.96,68.99 Z" fill="#f01010"/>
<line x1="544.60" y1="137.40" x2="544.60" y2="142.40" stroke="#111" stroke-width="1.0" />
<ellipse cx="534.40" cy="153.30" rx="2.5" ry="2.0" fill="#111"/>
<line x1="530.30" y1="153.30" x2="538.50" y2="153.30" stroke="#111" stroke-width="0.9" />
<line x1="530.30" y1="151.70" x2="530.30" y2="154.90" stroke="#111" stroke-width="0.9" />
<line x1="538.50" y1="151.70" x2="538.50" y2="154.90" stroke="#111" stroke-width="0.9" />
<ellipse cx="544.60" cy="139.90" rx="2.5" ry="2.0" fill="#111"/>
<ellipse cx="556.40" cy="126.90" rx="2.5" ry="2.0" fill="#111"/>
<ellipse cx="568.40" cy="113.80" rx="2.5" ry="2.0" fill="#111"/>
<ellipse cx="580.60" cy="101.50" rx="2.5" ry="2.0" fill="#111"/>
<rect x="514.50" y="9.40" width="169.80" height="169.90" fill="none" stroke="#5c5c5c" stroke-width="1"/>
<text x="470.60" y="8.60" font-size="16" fill="#000" font-weight="bold"  stroke="#000" stroke-width="0.55">c</text>
<line x1="514.50" y1="178.91" x2="516.30" y2="178.91" stroke="#555" stroke-width="0.7" />
<line x1="514.50" y1="163.50" x2="516.30" y2="163.50" stroke="#555" stroke-width="0.7" />
<line x1="514.50" y1="148.09" x2="516.30" y2="148.09" stroke="#555" stroke-width="0.7" />
<line x1="514.50" y1="132.68" x2="516.30" y2="132.68" stroke="#555" stroke-width="0.7" />
<line x1="514.50" y1="117.27" x2="516.30" y2="117.27" stroke="#555" stroke-width="0.7" />
<line x1="514.50" y1="101.86" x2="516.30" y2="101.86" stroke="#555" stroke-width="0.7" />
<line x1="514.50" y1="86.45" x2="516.30" y2="86.45" stroke="#555" stroke-width="0.7" />
<line x1="514.50" y1="71.04" x2="516.30" y2="71.04" stroke="#555" stroke-width="0.7" />
<line x1="514.50" y1="55.63" x2="516.30" y2="55.63" stroke="#555" stroke-width="0.7" />
<line x1="514.50" y1="40.22" x2="516.30" y2="40.22" stroke="#555" stroke-width="0.7" />
<line x1="514.50" y1="24.81" x2="516.30" y2="24.81" stroke="#555" stroke-width="0.7" />
<line x1="514.50" y1="9.40" x2="516.30" y2="9.40" stroke="#555" stroke-width="0.7" />
<text x="510.90" y="27.81" font-size="8.8" fill="#231f20" text-anchor="end">10<tspan font-size="5.5" dy="-3.6">6</tspan></text>
<text x="510.90" y="58.63" font-size="8.8" fill="#231f20" text-anchor="end">10<tspan font-size="5.5" dy="-3.6">4</tspan></text>
<text x="510.60" y="89.55" font-size="8.8" fill="#231f20" text-anchor="end" >100</text>
<text x="510.60" y="120.37" font-size="8.8" fill="#231f20" text-anchor="end" >1</text>
<text x="510.60" y="151.19" font-size="8.8" fill="#231f20" text-anchor="end" >0.01</text>
<line x1="536.72" y1="179.30" x2="536.72" y2="177.50" stroke="#555" stroke-width="0.7" />
<line x1="554.88" y1="179.30" x2="554.88" y2="177.50" stroke="#555" stroke-width="0.7" />
<line x1="570.23" y1="179.30" x2="570.23" y2="177.50" stroke="#555" stroke-width="0.7" />
<line x1="583.53" y1="179.30" x2="583.53" y2="177.50" stroke="#555" stroke-width="0.7" />
<line x1="595.26" y1="179.30" x2="595.26" y2="177.50" stroke="#555" stroke-width="0.7" />
<line x1="605.75" y1="179.30" x2="605.75" y2="177.50" stroke="#555" stroke-width="0.7" />
<line x1="615.24" y1="179.30" x2="615.24" y2="177.50" stroke="#555" stroke-width="0.7" />
<line x1="623.90" y1="179.30" x2="623.90" y2="177.50" stroke="#555" stroke-width="0.7" />
<line x1="631.87" y1="179.30" x2="631.87" y2="177.50" stroke="#555" stroke-width="0.7" />
<line x1="639.25" y1="179.30" x2="639.25" y2="177.50" stroke="#555" stroke-width="0.7" />
<line x1="646.13" y1="179.30" x2="646.13" y2="177.50" stroke="#555" stroke-width="0.7" />
<line x1="652.55" y1="179.30" x2="652.55" y2="177.50" stroke="#555" stroke-width="0.7" />
<line x1="658.59" y1="179.30" x2="658.59" y2="177.50" stroke="#555" stroke-width="0.7" />
<line x1="664.28" y1="179.30" x2="664.28" y2="177.50" stroke="#555" stroke-width="0.7" />
<line x1="669.67" y1="179.30" x2="669.67" y2="177.50" stroke="#555" stroke-width="0.7" />
<line x1="674.77" y1="179.30" x2="674.77" y2="177.50" stroke="#555" stroke-width="0.7" />
<line x1="679.63" y1="179.30" x2="679.63" y2="177.50" stroke="#555" stroke-width="0.7" />
<text x="536.72" y="190.10" font-size="8.8" fill="#231f20" text-anchor="middle" >5</text>
<text x="605.75" y="190.10" font-size="8.8" fill="#231f20" text-anchor="middle" >10</text>
<text x="646.13" y="190.10" font-size="8.8" fill="#231f20" text-anchor="middle" >15</text>
<text x="674.77" y="190.10" font-size="8.8" fill="#231f20" text-anchor="middle" >20</text>
<text x="582.6" y="207.3" font-size="10" fill="#231f20"><tspan font-style="italic" font-size="11">T</tspan><tspan font-size="7" dy="2.6">opt</tspan><tspan dy="-2.6"> (K)</tspan></text>
<text transform="translate(486.5,94.5) rotate(-90)" text-anchor="middle" font-size="10" fill="#231f20"><tspan font-style="italic">p</tspan><tspan font-size="7" dy="2.6">opt</tspan><tspan dy="-2.6"> (Pa)</tspan></text>
<text x="556.70" y="64.70" font-size="9.2" fill="#231f20" >Solid</text>
<text x="649.40" y="35.60" font-size="9.2" fill="#231f20" >Liquid</text>
<text x="618.80" y="137.70" font-size="9.2" fill="#231f20" >Gas</text>
<text x="638.6" y="93.5" font-size="9.2" fill="#231f20" textLength="33.6" lengthAdjust="spacingAndGlyphs">H<tspan font-size="6" dy="2.2">2</tspan><tspan dy="-2.2"> triple</tspan></text>
<text x="645.00" y="103.30" font-size="9" fill="#231f20" >point</text>
<text x="9.60" y="236.80" font-size="16" fill="#000" font-weight="bold"  stroke="#000" stroke-width="0.55">b</text>
<line x1="39.60" y1="413.10" x2="213.50" y2="239.60" stroke="#8f8f8f" stroke-width="1.15" stroke-dasharray="3.4 2.9"/>
<path d="M62.30,306.66 L62.79,306.57 L63.28,306.46 L63.78,306.34 L64.27,306.21 L64.76,306.05 L65.25,305.88 L65.75,305.68 L66.24,305.45 L66.73,305.20 L67.22,304.92 L67.72,304.61 L68.21,304.26 L68.70,303.87 L69.19,303.45 L69.69,302.97 L70.18,302.46 L70.67,301.89 L71.16,301.27 L71.66,300.59 L72.15,299.86 L72.64,299.06 L73.13,298.21 L73.63,297.29 L74.12,296.30 L74.61,295.25 L75.10,294.13 L75.60,292.95 L76.09,291.70 L76.58,290.38 L77.07,289.00 L77.57,287.55 L78.06,286.05 L78.55,284.49 L79.04,282.89 L79.54,281.23 L80.03,279.54 L80.52,277.81 L81.01,276.06 L81.51,274.29 L82.00,272.52 L82.49,270.74 L82.98,268.97 L83.47,267.22 L83.97,265.50 L84.46,263.82 L84.95,262.19 L85.44,260.63 L85.94,259.13 L86.43,257.72 L86.92,256.40 L87.41,255.19 L87.91,254.08 L88.40,253.09 L88.89,252.23 L89.38,251.50 L89.88,250.91 L90.37,250.47 L90.86,250.17 L91.35,250.02 L91.85,250.02 L92.34,250.17 L92.83,250.47 L93.32,250.91 L93.82,251.50 L94.31,252.23 L94.80,253.09 L95.29,254.08 L95.79,255.19 L96.28,256.40 L96.77,257.72 L97.26,259.13 L97.76,260.63 L98.25,262.19 L98.74,263.82 L99.23,265.50 L99.73,267.22 L100.22,268.97 L100.71,270.74 L101.20,272.52 L101.69,274.29 L102.19,276.06 L102.68,277.81 L103.17,279.54 L103.66,281.23 L104.16,282.89 L104.65,284.49 L105.14,286.05 L105.63,287.55 L106.13,289.00 L106.62,290.38 L107.11,291.70 L107.60,292.95 L108.10,294.13 L108.59,295.25 L109.08,296.30 L109.57,297.29 L110.07,298.21 L110.56,299.06 L111.05,299.86 L111.54,300.59 L112.04,301.27 L112.53,301.89 L113.02,302.46 L113.51,302.97 L114.01,303.45 L114.50,303.87 L114.99,304.26 L115.48,304.61 L115.98,304.92 L116.47,305.20 L116.96,305.45 L117.45,305.68 L117.95,305.88 L118.44,306.05 L118.93,306.21 L119.42,306.34 L119.92,306.46 L120.41,306.57 L120.90,306.66" stroke="#ff8000" stroke-width="1.9" fill="none" />
<line x1="91.70" y1="280.40" x2="84.20" y2="280.40" stroke="#000" stroke-width="0.9" />
<path d="M81.50,280.40 L84.70,278.90 L84.70,281.90 Z" fill="#000"/>
<line x1="91.70" y1="280.40" x2="99.30" y2="280.40" stroke="#000" stroke-width="0.9" />
<path d="M102.00,280.40 L98.80,281.90 L98.80,278.90 Z" fill="#000"/>
<text x="84.4" y="292.9" font-size="9.8" fill="#231f20">2<tspan font-style="italic">Γ</tspan><tspan font-size="7" dy="2.6">D</tspan></text>
<line x1="76.10" y1="322.20" x2="86.59" y2="306.16" stroke="#000" stroke-width="0.9" />
<path d="M88.40,303.40 L87.74,307.51 L84.90,305.65 Z" fill="#000"/>
<text x="47.70" y="335.70" font-size="10.9" fill="#231f20" >Doppler broadening</text>
<line x1="59.70" y1="388.20" x2="59.70" y2="403.90" stroke="#111" stroke-width="0.9" />
<line x1="57.00" y1="388.20" x2="62.40" y2="388.20" stroke="#111" stroke-width="0.9" />
<line x1="57.00" y1="403.90" x2="62.40" y2="403.90" stroke="#111" stroke-width="0.9" />
<circle cx="59.70" cy="396.20" r="2.0" fill="#111" />
<line x1="81.70" y1="369.80" x2="81.70" y2="375.80" stroke="#111" stroke-width="0.9" />
<line x1="79.70" y1="369.80" x2="83.70" y2="369.80" stroke="#111" stroke-width="0.9" />
<line x1="79.70" y1="375.80" x2="83.70" y2="375.80" stroke="#111" stroke-width="0.9" />
<circle cx="81.70" cy="373.00" r="2.0" fill="#111" />
<circle cx="108.00" cy="343.40" r="2.0" fill="#111" />
<circle cx="142.00" cy="310.30" r="2.0" fill="#111" />
<circle cx="179.70" cy="270.10" r="2.0" fill="#111" />
<rect x="39.60" y="239.60" width="173.90" height="173.50" fill="none" stroke="#5c5c5c" stroke-width="1"/>
<line x1="39.60" y1="391.41" x2="42.60" y2="391.41" stroke="#5c5c5c" stroke-width="0.85" />
<text x="34.20" y="394.51" font-size="8.8" fill="#231f20" text-anchor="end" >5</text>
<line x1="61.34" y1="413.10" x2="61.34" y2="410.10" stroke="#5c5c5c" stroke-width="0.85" />
<text x="61.34" y="424.20" font-size="8.8" fill="#231f20" text-anchor="middle" >5</text>
<line x1="39.60" y1="348.04" x2="42.60" y2="348.04" stroke="#5c5c5c" stroke-width="0.85" />
<text x="34.20" y="351.14" font-size="8.8" fill="#231f20" text-anchor="end" >6</text>
<line x1="104.81" y1="413.10" x2="104.81" y2="410.10" stroke="#5c5c5c" stroke-width="0.85" />
<text x="104.81" y="424.20" font-size="8.8" fill="#231f20" text-anchor="middle" >6</text>
<line x1="39.60" y1="304.66" x2="42.60" y2="304.66" stroke="#5c5c5c" stroke-width="0.85" />
<text x="34.20" y="307.76" font-size="8.8" fill="#231f20" text-anchor="end" >7</text>
<line x1="148.29" y1="413.10" x2="148.29" y2="410.10" stroke="#5c5c5c" stroke-width="0.85" />
<text x="148.29" y="424.20" font-size="8.8" fill="#231f20" text-anchor="middle" >7</text>
<line x1="39.60" y1="261.29" x2="42.60" y2="261.29" stroke="#5c5c5c" stroke-width="0.85" />
<text x="34.20" y="264.39" font-size="8.8" fill="#231f20" text-anchor="end" >8</text>
<line x1="191.76" y1="413.10" x2="191.76" y2="410.10" stroke="#5c5c5c" stroke-width="0.85" />
<text x="191.76" y="424.20" font-size="8.8" fill="#231f20" text-anchor="middle" >8</text>
<text x="113.8" y="440.8" font-size="10" fill="#231f20"><tspan font-style="italic" font-size="11">T</tspan><tspan font-size="7" dy="2.6">ref</tspan><tspan dy="-2.6"> (K)</tspan></text>
<text transform="translate(20.0,329.0) rotate(-90)" text-anchor="middle" font-size="10" fill="#231f20"><tspan font-style="italic" font-size="11">T</tspan><tspan font-size="7" dy="2.6">opt</tspan><tspan dy="-2.6"> (K)</tspan></text>
<text x="138.6" y="373.0" font-size="10.6" fill="#231f20"><tspan font-style="italic">T</tspan><tspan font-size="7.2" dy="2.6">opt</tspan></text>
<path d="M163.80,367.50 C161.49,367.50 160.59,370.70 159.30,370.70 C157.70,370.70 157.70,367.50 159.30,367.50 C160.59,367.50 161.49,370.70 163.80,370.70" stroke="#231f20" stroke-width="0.85" fill="none"/>
<text x="166.3" y="373.0" font-size="10.6" fill="#231f20" textLength="20.6" lengthAdjust="spacingAndGlyphs">(<tspan font-style="italic">Γ</tspan><tspan font-size="7.2" dy="2.6">D</tspan><tspan dy="-2.6">)</tspan><tspan font-size="7.2" dy="-4.0">2</tspan></text>
<line x1="267.60" y1="413.00" x2="441.50" y2="239.60" stroke="#8f8f8f" stroke-width="1.15" stroke-dasharray="3.4 2.9"/>
<defs><pattern id="hatch" patternUnits="userSpaceOnUse" width="2.9" height="2.9" patternTransform="rotate(45)"><rect width="2.9" height="2.9" fill="#fff3e6"/><line x1="0.6" y1="0" x2="0.6" y2="2.9" stroke="#ff8a10" stroke-width="1.15"/></pattern></defs>
<path d="M289.80,305.39 L290.30,305.35 L290.80,305.30 L291.30,305.24 L291.80,305.17 L292.30,305.09 L292.79,305.00 L293.29,304.89 L293.79,304.76 L294.29,304.61 L294.79,304.44 L295.29,304.25 L295.79,304.03 L296.29,303.78 L296.79,303.49 L297.29,303.17 L297.79,302.81 L298.29,302.40 L298.78,301.95 L299.28,301.44 L299.78,300.88 L300.28,300.26 L300.78,299.58 L301.28,298.83 L301.78,298.02 L302.28,297.13 L302.78,296.16 L303.28,295.13 L303.78,294.01 L304.28,292.81 L304.77,291.54 L305.27,290.19 L305.77,288.76 L306.27,287.25 L306.77,285.68 L307.27,284.03 L307.77,282.33 L308.27,280.57 L308.77,278.76 L309.27,276.90 L309.77,275.02 L310.27,273.12 L310.76,271.20 L311.26,269.29 L311.76,267.39 L312.26,265.52 L312.76,263.69 L313.26,261.91 L313.76,260.21 L314.26,258.58 L314.76,257.04 L315.26,255.62 L315.76,254.31 L316.26,253.14 L316.75,252.10 L317.25,251.22 L317.75,250.50 L318.25,249.94 L318.75,249.56 L319.25,249.34 L319.75,249.31 L320.25,249.45 L320.75,249.77 L321.25,250.26 L321.75,250.91 L322.25,251.73 L322.74,252.71 L323.24,253.83 L323.74,255.08 L324.24,256.46 L324.74,257.95 L325.24,259.54 L325.74,261.22 L326.24,262.97 L326.74,264.78 L327.24,266.64 L327.74,268.53 L328.24,270.44 L328.73,272.35 L329.23,274.26 L329.73,276.15 L330.23,278.02 L330.73,279.85 L331.23,281.63 L331.73,283.36 L332.23,285.03 L332.73,286.63 L333.23,288.16 L333.73,289.62 L334.23,291.01 L334.72,292.31 L335.22,293.54 L335.72,294.69 L336.22,295.76 L336.72,296.75 L337.22,297.67 L337.72,298.51 L338.22,299.29 L338.72,300.00 L339.22,300.64 L339.72,301.22 L340.22,301.75 L340.71,302.22 L341.21,302.65 L341.71,303.03 L342.21,303.37 L342.71,303.67 L343.21,303.93 L343.71,304.16 L344.21,304.37 L344.71,304.55 L345.21,304.70 L345.71,304.84 L346.21,304.95 L346.70,305.05 L347.20,305.14 L347.70,305.21 L348.20,305.28 L348.70,305.33 L349.20,305.38Z" fill="url(#hatch)" stroke="none" />
<path d="M289.80,305.39 L290.30,305.35 L290.80,305.30 L291.30,305.24 L291.80,305.17 L292.30,305.09 L292.79,305.00 L293.29,304.89 L293.79,304.76 L294.29,304.61 L294.79,304.44 L295.29,304.25 L295.79,304.03 L296.29,303.78 L296.79,303.49 L297.29,303.17 L297.79,302.81 L298.29,302.40 L298.78,301.95 L299.28,301.44 L299.78,300.88 L300.28,300.26 L300.78,299.58 L301.28,298.83 L301.78,298.02 L302.28,297.13 L302.78,296.16 L303.28,295.13 L303.78,294.01 L304.28,292.81 L304.77,291.54 L305.27,290.19 L305.77,288.76 L306.27,287.25 L306.77,285.68 L307.27,284.03 L307.77,282.33 L308.27,280.57 L308.77,278.76 L309.27,276.90 L309.77,275.02 L310.27,273.12 L310.76,271.20 L311.26,269.29 L311.76,267.39 L312.26,265.52 L312.76,263.69 L313.26,261.91 L313.76,260.21 L314.26,258.58 L314.76,257.04 L315.26,255.62 L315.76,254.31 L316.26,253.14 L316.75,252.10 L317.25,251.22 L317.75,250.50 L318.25,249.94 L318.75,249.56 L319.25,249.34 L319.75,249.31 L320.25,249.45 L320.75,249.77 L321.25,250.26 L321.75,250.91 L322.25,251.73 L322.74,252.71 L323.24,253.83 L323.74,255.08 L324.24,256.46 L324.74,257.95 L325.24,259.54 L325.74,261.22 L326.24,262.97 L326.74,264.78 L327.24,266.64 L327.74,268.53 L328.24,270.44 L328.73,272.35 L329.23,274.26 L329.73,276.15 L330.23,278.02 L330.73,279.85 L331.23,281.63 L331.73,283.36 L332.23,285.03 L332.73,286.63 L333.23,288.16 L333.73,289.62 L334.23,291.01 L334.72,292.31 L335.22,293.54 L335.72,294.69 L336.22,295.76 L336.72,296.75 L337.22,297.67 L337.72,298.51 L338.22,299.29 L338.72,300.00 L339.22,300.64 L339.72,301.22 L340.22,301.75 L340.71,302.22 L341.21,302.65 L341.71,303.03 L342.21,303.37 L342.71,303.67 L343.21,303.93 L343.71,304.16 L344.21,304.37 L344.71,304.55 L345.21,304.70 L345.71,304.84 L346.21,304.95 L346.70,305.05 L347.20,305.14 L347.70,305.21 L348.20,305.28 L348.70,305.33 L349.20,305.38" stroke="#ff8000" stroke-width="1.9" fill="none" />
<text x="318.10" y="288.30" font-size="9.5" fill="#231f20" text-anchor="middle" >A</text>
<line x1="304.20" y1="329.80" x2="317.15" y2="298.06" stroke="#000" stroke-width="0.9" />
<path d="M318.40,295.00 L318.54,299.16 L315.39,297.88 Z" fill="#000"/>
<text x="282.50" y="339.00" font-size="10.2" fill="#231f20" >Line area</text>
<text x="375.3" y="371.9" font-size="9.8" fill="#231f20"><tspan font-style="italic">n</tspan><tspan font-size="6.8" dy="2.5">opt</tspan></text>
<path d="M401.00,367.30 C398.78,367.30 397.88,370.50 396.70,370.50 C395.10,370.50 395.10,367.30 396.70,367.30 C397.88,367.30 398.78,370.50 401.00,370.50" stroke="#231f20" stroke-width="0.85" fill="none"/>
<text x="403.0" y="371.9" font-size="9.8" fill="#231f20" font-style="italic">A</text>
<line x1="290.10" y1="376.60" x2="306.60" y2="376.60" stroke="#111" stroke-width="1.0" />
<line x1="290.10" y1="374.30" x2="290.10" y2="378.90" stroke="#111" stroke-width="1.0" />
<line x1="306.60" y1="374.30" x2="306.60" y2="378.90" stroke="#111" stroke-width="1.0" />
<circle cx="300.60" cy="376.60" r="2.2" fill="#111" />
<line x1="318.10" y1="347.80" x2="335.40" y2="347.80" stroke="#111" stroke-width="1.0" />
<line x1="318.10" y1="345.50" x2="318.10" y2="350.10" stroke="#111" stroke-width="1.0" />
<line x1="335.40" y1="345.50" x2="335.40" y2="350.10" stroke="#111" stroke-width="1.0" />
<circle cx="328.60" cy="347.80" r="2.2" fill="#111" />
<line x1="346.60" y1="320.50" x2="363.00" y2="320.50" stroke="#111" stroke-width="1.0" />
<line x1="346.60" y1="318.20" x2="346.60" y2="322.80" stroke="#111" stroke-width="1.0" />
<line x1="363.00" y1="318.20" x2="363.00" y2="322.80" stroke="#111" stroke-width="1.0" />
<circle cx="356.80" cy="320.50" r="2.2" fill="#111" />
<line x1="375.60" y1="291.80" x2="391.70" y2="291.80" stroke="#111" stroke-width="1.0" />
<line x1="375.60" y1="289.50" x2="375.60" y2="294.10" stroke="#111" stroke-width="1.0" />
<line x1="391.70" y1="289.50" x2="391.70" y2="294.10" stroke="#111" stroke-width="1.0" />
<circle cx="385.60" cy="291.80" r="2.2" fill="#111" />
<line x1="400.60" y1="266.60" x2="417.20" y2="266.60" stroke="#111" stroke-width="1.0" />
<line x1="400.60" y1="264.30" x2="400.60" y2="268.90" stroke="#111" stroke-width="1.0" />
<line x1="417.20" y1="264.30" x2="417.20" y2="268.90" stroke="#111" stroke-width="1.0" />
<circle cx="410.50" cy="266.60" r="2.2" fill="#111" />
<rect x="267.60" y="239.60" width="173.90" height="173.40" fill="none" stroke="#5c5c5c" stroke-width="1"/>
<line x1="267.60" y1="239.60" x2="270.60" y2="239.60" stroke="#5c5c5c" stroke-width="0.85" />
<text x="263.7" y="242.60" font-size="8.8" fill="#231f20" text-anchor="end">10<tspan font-size="6" dy="-3.6">0</tspan></text>
<line x1="267.60" y1="274.28" x2="270.60" y2="274.28" stroke="#5c5c5c" stroke-width="0.85" />
<text x="263.7" y="277.28" font-size="8.8" fill="#231f20" text-anchor="end">10<tspan font-size="6" dy="-3.6">−1</tspan></text>
<line x1="267.60" y1="308.96" x2="270.60" y2="308.96" stroke="#5c5c5c" stroke-width="0.85" />
<text x="263.7" y="311.96" font-size="8.8" fill="#231f20" text-anchor="end">10<tspan font-size="6" dy="-3.6">−2</tspan></text>
<line x1="267.60" y1="343.64" x2="270.60" y2="343.64" stroke="#5c5c5c" stroke-width="0.85" />
<text x="263.7" y="346.64" font-size="8.8" fill="#231f20" text-anchor="end">10<tspan font-size="6" dy="-3.6">−3</tspan></text>
<line x1="267.60" y1="378.32" x2="270.60" y2="378.32" stroke="#5c5c5c" stroke-width="0.85" />
<text x="263.7" y="381.32" font-size="8.8" fill="#231f20" text-anchor="end">10<tspan font-size="6" dy="-3.6">−4</tspan></text>
<line x1="267.60" y1="413.00" x2="270.60" y2="413.00" stroke="#5c5c5c" stroke-width="0.85" />
<text x="263.7" y="416.00" font-size="8.8" fill="#231f20" text-anchor="end">10<tspan font-size="6" dy="-3.6">−5</tspan></text>
<line x1="302.38" y1="413.00" x2="302.38" y2="410.00" stroke="#5c5c5c" stroke-width="0.85" />
<line x1="337.16" y1="413.00" x2="337.16" y2="410.00" stroke="#5c5c5c" stroke-width="0.85" />
<line x1="371.94" y1="413.00" x2="371.94" y2="410.00" stroke="#5c5c5c" stroke-width="0.85" />
<line x1="406.72" y1="413.00" x2="406.72" y2="410.00" stroke="#5c5c5c" stroke-width="0.85" />
<line x1="441.50" y1="413.00" x2="441.50" y2="410.00" stroke="#5c5c5c" stroke-width="0.85" />
<text x="295.78" y="427.6" font-size="8.8" fill="#231f20">10<tspan font-size="6" dy="-3.6">−4</tspan></text>
<text x="330.56" y="427.6" font-size="8.8" fill="#231f20">10<tspan font-size="6" dy="-3.6">−3</tspan></text>
<text x="365.34" y="427.6" font-size="8.8" fill="#231f20">10<tspan font-size="6" dy="-3.6">−2</tspan></text>
<text x="400.12" y="427.6" font-size="8.8" fill="#231f20">10<tspan font-size="6" dy="-3.6">−1</tspan></text>
<text x="434.90" y="427.6" font-size="8.8" fill="#231f20">10<tspan font-size="6" dy="-3.6">0</tspan></text>
<text x="320.7" y="443.4" font-size="10.3" fill="#231f20" textLength="62.5" lengthAdjust="spacingAndGlyphs"><tspan font-style="italic">n</tspan><tspan font-size="7" dy="2.6">ref</tspan><tspan dy="-2.6"> (mol m</tspan><tspan font-size="7" dy="-3.8">−3</tspan><tspan dy="3.8">)</tspan></text>
<text transform="translate(236.2,327.0) rotate(-90)" text-anchor="middle" font-size="10.3" textLength="64.5" lengthAdjust="spacingAndGlyphs" fill="#231f20"><tspan font-style="italic">n</tspan><tspan font-size="7" dy="2.6">opt</tspan><tspan dy="-2.6"> (mol m</tspan><tspan font-size="7" dy="-3.8">−3</tspan><tspan dy="3.8">)</tspan></text>
<text x="470.60" y="236.50" font-size="16" fill="#000" font-weight="bold"  stroke="#000" stroke-width="0.55">d</text>
<path d="M510.70,369.83 L511.28,367.91 L511.86,366.02 L512.44,364.15 L513.02,362.31 L513.60,360.48 L514.18,358.68 L514.76,356.90 L515.34,355.13 L515.93,353.39 L516.51,351.67 L517.09,349.98 L517.67,348.30 L518.25,346.64 L518.83,345.00 L519.41,343.39 L519.99,341.79 L520.57,340.21 L521.15,338.65 L521.73,337.11 L522.31,335.60 L522.89,334.10 L523.47,332.61 L524.05,331.15 L524.63,329.71 L525.22,328.29 L525.80,326.88 L526.38,325.49 L526.96,324.12 L527.54,322.77 L528.12,321.44 L528.70,320.12 L529.28,318.82 L529.86,317.54 L530.44,316.27 L531.02,315.03 L531.60,313.79 L532.18,312.58 L532.76,311.38 L533.34,310.20 L533.92,309.04 L534.50,307.89 L535.09,306.75 L535.67,305.64 L536.25,304.53 L536.83,303.45 L537.41,302.38 L537.99,301.32 L538.57,300.28 L539.15,299.25 L539.73,298.24 L540.31,297.24 L540.89,296.26 L541.47,295.29 L542.05,294.34 L542.63,293.40 L543.21,292.47 L543.79,291.56 L544.37,290.66 L544.96,289.77 L545.54,288.90 L546.12,288.04 L546.70,287.19 L547.28,286.35 L547.86,285.53 L548.44,284.72 L549.02,283.92 L549.60,283.14 L550.18,282.36 L550.76,281.60 L551.34,280.85 L551.92,280.11 L552.50,279.39 L553.08,278.67 L553.66,277.97 L554.25,277.27 L554.83,276.59 L555.41,275.92 L555.99,275.26 L556.57,274.61 L557.15,273.96 L557.73,273.33 L558.31,272.71 L558.89,272.10 L559.47,271.50 L560.05,270.91 L560.63,270.33 L561.21,269.76 L561.79,269.20 L562.37,268.65 L562.95,268.10 L563.53,267.57 L564.12,267.04 L564.70,266.52 L565.28,266.02 L565.86,265.52 L566.44,265.02 L567.02,264.54 L567.60,264.07 L568.18,263.60 L568.76,263.14 L569.34,262.69 L569.92,262.24 L570.50,261.81 L571.08,261.38 L571.66,260.96 L572.24,260.54 L572.82,260.14 L573.41,259.74 L573.99,259.35 L574.57,258.96 L575.15,258.58 L575.73,258.21 L576.31,257.84 L576.89,257.48 L577.47,257.13 L578.05,256.78 L578.63,256.44 L579.21,256.11 L579.79,255.78 L580.37,255.46 L580.95,255.14 L581.53,254.83 L582.11,254.53 L582.69,254.23 L583.28,253.94 L583.86,253.65 L584.44,253.36 L585.02,253.09 L585.60,252.81 L586.18,252.55 L586.76,252.28 L587.34,252.03 L587.92,251.77 L588.50,251.52 L589.08,251.28 L589.66,251.04 L590.24,250.81 L590.82,250.58 L591.40,250.35 L591.98,250.13 L592.56,249.91 L593.15,249.70 L593.73,249.49 L594.31,249.29 L594.89,249.09 L595.47,248.89 L596.05,248.70 L596.63,248.51 L597.21,248.32 L597.79,248.14 L598.37,247.96 L598.95,247.79 L599.53,247.62 L600.11,247.45 L600.69,247.29 L601.27,247.12 L601.85,246.97 L602.44,246.81 L603.02,246.66 L603.60,246.51 L604.18,246.37 L604.76,246.22 L605.34,246.08 L605.92,245.95 L606.50,245.81 L607.08,245.68 L607.66,245.55 L608.24,245.43 L608.82,245.30 L609.40,245.18 L609.98,245.06 L610.56,244.95 L611.14,244.83 L611.72,244.72 L612.31,244.61 L612.89,244.51 L613.47,244.40 L614.05,244.30 L614.63,244.20 L615.21,244.10 L615.79,244.01 L616.37,243.91 L616.95,243.82 L617.53,243.73 L618.11,243.65 L618.69,243.56 L619.27,243.48 L619.85,243.39 L620.43,243.31 L621.01,243.23 L621.59,243.16 L622.18,243.08 L622.76,243.01 L623.34,242.94 L623.92,242.87 L624.50,242.80 L625.08,242.73 L625.66,242.66 L626.24,242.60 L626.82,242.54 L627.40,242.48 L627.98,242.42 L628.56,242.36 L629.14,242.30 L629.72,242.24 L630.30,242.19 L630.88,242.13 L631.47,242.08 L632.05,242.03 L632.63,241.98 L633.21,241.93 L633.79,241.88 L634.37,241.84 L634.95,241.79 L635.53,241.75 L636.11,241.70 L636.69,241.66 L637.27,241.62 L637.85,241.58 L638.43,241.54 L639.01,241.50 L639.59,241.46 L640.17,241.42 L640.75,241.39 L641.34,241.35 L641.92,241.32 L642.50,241.29 L643.08,241.25 L643.66,241.22 L644.24,241.19 L644.82,241.16 L645.40,241.13 L645.98,241.10 L646.56,241.07 L647.14,241.04 L647.72,241.02 L648.30,240.99 L648.88,240.96 L649.46,240.94 L650.04,240.91 L650.63,240.89 L651.21,240.87 L651.79,240.84 L652.37,240.82 L652.95,240.80 L653.53,240.78 L654.11,240.76 L654.69,240.74 L655.27,240.72 L655.85,240.70 L656.43,240.68 L657.01,240.66 L657.59,240.65 L658.17,240.63 L658.75,240.61 L659.33,240.59 L659.91,240.58 L660.50,240.56 L661.08,240.55 L661.66,240.53 L662.24,240.52 L662.82,240.50 L663.40,240.49 L663.98,240.48 L664.56,240.46 L665.14,240.45 L665.72,240.44 L666.30,240.43 L666.88,240.42 L667.46,240.40 L668.04,240.39 L668.62,240.38 L669.20,240.37 L669.78,240.36 L670.37,240.35 L670.95,240.34 L671.53,240.33 L672.11,240.32 L672.69,240.31 L673.27,240.31 L673.85,240.30 L674.43,240.29 L675.01,240.28 L675.59,240.27 L676.17,240.26 L676.75,240.26 L677.33,240.25 L677.91,240.24 L678.49,240.24 L679.07,240.23 L679.66,240.22 L680.24,240.22 L680.82,240.21 L681.40,240.20 L681.98,240.20 L682.56,240.19 L683.14,240.19 L683.72,240.18 L684.30,240.18" stroke="#1414f0" stroke-width="1.55" fill="none" />
<path d="M510.70,283.27 L511.28,285.19 L511.86,287.08 L512.44,288.95 L513.02,290.79 L513.60,292.62 L514.18,294.42 L514.76,296.20 L515.34,297.97 L515.93,299.71 L516.51,301.43 L517.09,303.12 L517.67,304.80 L518.25,306.46 L518.83,308.10 L519.41,309.71 L519.99,311.31 L520.57,312.89 L521.15,314.45 L521.73,315.99 L522.31,317.50 L522.89,319.00 L523.47,320.49 L524.05,321.95 L524.63,323.39 L525.22,324.81 L525.80,326.22 L526.38,327.61 L526.96,328.98 L527.54,330.33 L528.12,331.66 L528.70,332.98 L529.28,334.28 L529.86,335.56 L530.44,336.83 L531.02,338.07 L531.60,339.31 L532.18,340.52 L532.76,341.72 L533.34,342.90 L533.92,344.06 L534.50,345.21 L535.09,346.35 L535.67,347.46 L536.25,348.57 L536.83,349.65 L537.41,350.72 L537.99,351.78 L538.57,352.82 L539.15,353.85 L539.73,354.86 L540.31,355.86 L540.89,356.84 L541.47,357.81 L542.05,358.76 L542.63,359.70 L543.21,360.63 L543.79,361.54 L544.37,362.44 L544.96,363.33 L545.54,364.20 L546.12,365.06 L546.70,365.91 L547.28,366.75 L547.86,367.57 L548.44,368.38 L549.02,369.18 L549.60,369.96 L550.18,370.74 L550.76,371.50 L551.34,372.25 L551.92,372.99 L552.50,373.71 L553.08,374.43 L553.66,375.13 L554.25,375.83 L554.83,376.51 L555.41,377.18 L555.99,377.84 L556.57,378.49 L557.15,379.14 L557.73,379.77 L558.31,380.39 L558.89,381.00 L559.47,381.60 L560.05,382.19 L560.63,382.77 L561.21,383.34 L561.79,383.90 L562.37,384.45 L562.95,385.00 L563.53,385.53 L564.12,386.06 L564.70,386.58 L565.28,387.08 L565.86,387.58 L566.44,388.08 L567.02,388.56 L567.60,389.03 L568.18,389.50 L568.76,389.96 L569.34,390.41 L569.92,390.86 L570.50,391.29 L571.08,391.72 L571.66,392.14 L572.24,392.56 L572.82,392.96 L573.41,393.36 L573.99,393.75 L574.57,394.14 L575.15,394.52 L575.73,394.89 L576.31,395.26 L576.89,395.62 L577.47,395.97 L578.05,396.32 L578.63,396.66 L579.21,396.99 L579.79,397.32 L580.37,397.64 L580.95,397.96 L581.53,398.27 L582.11,398.57 L582.69,398.87 L583.28,399.16 L583.86,399.45 L584.44,399.74 L585.02,400.01 L585.60,400.29 L586.18,400.55 L586.76,400.82 L587.34,401.07 L587.92,401.33 L588.50,401.58 L589.08,401.82 L589.66,402.06 L590.24,402.29 L590.82,402.52 L591.40,402.75 L591.98,402.97 L592.56,403.19 L593.15,403.40 L593.73,403.61 L594.31,403.81 L594.89,404.01 L595.47,404.21 L596.05,404.40 L596.63,404.59 L597.21,404.78 L597.79,404.96 L598.37,405.14 L598.95,405.31 L599.53,405.48 L600.11,405.65 L600.69,405.81 L601.27,405.98 L601.85,406.13 L602.44,406.29 L603.02,406.44 L603.60,406.59 L604.18,406.73 L604.76,406.88 L605.34,407.02 L605.92,407.15 L606.50,407.29 L607.08,407.42 L607.66,407.55 L608.24,407.67 L608.82,407.80 L609.40,407.92 L609.98,408.04 L610.56,408.15 L611.14,408.27 L611.72,408.38 L612.31,408.49 L612.89,408.59 L613.47,408.70 L614.05,408.80 L614.63,408.90 L615.21,409.00 L615.79,409.09 L616.37,409.19 L616.95,409.28 L617.53,409.37 L618.11,409.45 L618.69,409.54 L619.27,409.62 L619.85,409.71 L620.43,409.79 L621.01,409.87 L621.59,409.94 L622.18,410.02 L622.76,410.09 L623.34,410.16 L623.92,410.23 L624.50,410.30 L625.08,410.37 L625.66,410.44 L626.24,410.50 L626.82,410.56 L627.40,410.62 L627.98,410.68 L628.56,410.74 L629.14,410.80 L629.72,410.86 L630.30,410.91 L630.88,410.97 L631.47,411.02 L632.05,411.07 L632.63,411.12 L633.21,411.17 L633.79,411.22 L634.37,411.26 L634.95,411.31 L635.53,411.35 L636.11,411.40 L636.69,411.44 L637.27,411.48 L637.85,411.52 L638.43,411.56 L639.01,411.60 L639.59,411.64 L640.17,411.68 L640.75,411.71 L641.34,411.75 L641.92,411.78 L642.50,411.81 L643.08,411.85 L643.66,411.88 L644.24,411.91 L644.82,411.94 L645.40,411.97 L645.98,412.00 L646.56,412.03 L647.14,412.06 L647.72,412.08 L648.30,412.11 L648.88,412.14 L649.46,412.16 L650.04,412.19 L650.63,412.21 L651.21,412.23 L651.79,412.26 L652.37,412.28 L652.95,412.30 L653.53,412.32 L654.11,412.34 L654.69,412.36 L655.27,412.38 L655.85,412.40 L656.43,412.42 L657.01,412.44 L657.59,412.45 L658.17,412.47 L658.75,412.49 L659.33,412.51 L659.91,412.52 L660.50,412.54 L661.08,412.55 L661.66,412.57 L662.24,412.58 L662.82,412.60 L663.40,412.61 L663.98,412.62 L664.56,412.64 L665.14,412.65 L665.72,412.66 L666.30,412.67 L666.88,412.68 L667.46,412.70 L668.04,412.71 L668.62,412.72 L669.20,412.73 L669.78,412.74 L670.37,412.75 L670.95,412.76 L671.53,412.77 L672.11,412.78 L672.69,412.79 L673.27,412.79 L673.85,412.80 L674.43,412.81 L675.01,412.82 L675.59,412.83 L676.17,412.84 L676.75,412.84 L677.33,412.85 L677.91,412.86 L678.49,412.86 L679.07,412.87 L679.66,412.88 L680.24,412.88 L680.82,412.89 L681.40,412.90 L681.98,412.90 L682.56,412.91 L683.14,412.91 L683.72,412.92 L684.30,412.92" stroke="#ff1414" stroke-width="1.55" fill="none" />
<rect x="510.70" y="240.00" width="173.60" height="173.10" fill="none" stroke="#5c5c5c" stroke-width="1"/>
<line x1="510.70" y1="240.00" x2="513.70" y2="240.00" stroke="#5c5c5c" stroke-width="0.85" />
<text x="505.50" y="243.10" font-size="8.8" fill="#231f20" text-anchor="end" >1.00</text>
<line x1="510.70" y1="283.27" x2="513.70" y2="283.27" stroke="#5c5c5c" stroke-width="0.85" />
<text x="505.50" y="286.38" font-size="8.8" fill="#231f20" text-anchor="end" >0.75</text>
<line x1="510.70" y1="369.83" x2="513.70" y2="369.83" stroke="#5c5c5c" stroke-width="0.85" />
<text x="505.50" y="372.93" font-size="8.8" fill="#231f20" text-anchor="end" >0.25</text>
<line x1="510.70" y1="413.10" x2="513.70" y2="413.10" stroke="#5c5c5c" stroke-width="0.85" />
<text x="505.50" y="416.20" font-size="8.8" fill="#231f20" text-anchor="end" >0</text>
<line x1="510.70" y1="413.10" x2="510.70" y2="410.10" stroke="#5c5c5c" stroke-width="0.85" />
<text x="510.70" y="424.30" font-size="8.8" fill="#231f20" text-anchor="middle" >0</text>
<line x1="532.80" y1="413.10" x2="532.80" y2="410.10" stroke="#5c5c5c" stroke-width="0.85" />
<text x="532.80" y="424.30" font-size="8.8" fill="#231f20" text-anchor="middle" >20</text>
<line x1="554.90" y1="413.10" x2="554.90" y2="410.10" stroke="#5c5c5c" stroke-width="0.85" />
<text x="554.90" y="424.30" font-size="8.8" fill="#231f20" text-anchor="middle" >40</text>
<line x1="577.00" y1="413.10" x2="577.00" y2="410.10" stroke="#5c5c5c" stroke-width="0.85" />
<text x="577.00" y="424.30" font-size="8.8" fill="#231f20" text-anchor="middle" >60</text>
<line x1="599.10" y1="413.10" x2="599.10" y2="410.10" stroke="#5c5c5c" stroke-width="0.85" />
<text x="599.10" y="424.30" font-size="8.8" fill="#231f20" text-anchor="middle" >80</text>
<line x1="621.20" y1="413.10" x2="621.20" y2="410.10" stroke="#5c5c5c" stroke-width="0.85" />
<text x="621.20" y="424.30" font-size="8.8" fill="#231f20" text-anchor="middle" >100</text>
<line x1="643.30" y1="413.10" x2="643.30" y2="410.10" stroke="#5c5c5c" stroke-width="0.85" />
<text x="643.30" y="424.30" font-size="8.8" fill="#231f20" text-anchor="middle" >120</text>
<line x1="665.40" y1="413.10" x2="665.40" y2="410.10" stroke="#5c5c5c" stroke-width="0.85" />
<text x="665.40" y="424.30" font-size="8.8" fill="#231f20" text-anchor="middle" >140</text>
<text x="589.7" y="441.9" font-size="10" fill="#231f20"><tspan font-style="italic">t</tspan> (h)</text>
<text transform="translate(478.3,326.2) rotate(-90)" text-anchor="middle" font-size="10.8" textLength="107.2" lengthAdjust="spacingAndGlyphs" fill="#231f20">H<tspan font-size="7" dy="2.6">2</tspan><tspan dy="-2.6"> spin isomer fraction</tspan></text>
<text transform="translate(560.0,264.6) rotate(-36.5)" font-size="9.1" fill="#2a2aee">Para</text>
<text transform="translate(545.2,384.6) rotate(40.5)" font-size="9.6" fill="#ff2a2a">Ortho</text>
<text x="531.7" y="329.9" font-size="9.2" fill="#231f20" textLength="37.0" lengthAdjust="spacingAndGlyphs"><tspan font-style="italic" font-size="10">τ</tspan> = 32.4 h</text>
<line x1="577.50" y1="356.80" x2="577.50" y2="308.10" stroke="#000" stroke-width="0.9" />
<path d="M577.50,304.60 L579.20,308.60 L575.80,308.60 Z" fill="#000"/>
<text x="549.70" y="300.30" font-size="10.5" fill="#4a4aff" font-family='"Liberation Serif", serif'><tspan font-style="italic">ψ</tspan><tspan font-style="italic" font-size="7.6" dy="2.3" textLength="14" lengthAdjust="spacingAndGlyphs">nuc</tspan></text>
<line x1="573.80" y1="297.10" x2="580.90" y2="297.10" stroke="#4a4aff" stroke-width="0.7" />
<line x1="573.80" y1="299.60" x2="580.90" y2="299.60" stroke="#4a4aff" stroke-width="0.7" />
<line x1="586.00" y1="298.30" x2="596.80" y2="298.30" stroke="#4a4aff" stroke-width="0.55" />
<text x="591.70" y="297.00" font-size="7.2" fill="#4a4aff" text-anchor="middle" font-family='"Liberation Serif", serif'>1</text>
<path d="M586.20,303.50 L587.10,303.00 L588.40,306.20 L590.10,300.00 L596.60,300.00" stroke="#4a4aff" stroke-width="0.6" fill="none" stroke-linejoin="round"/>
<text x="593.40" y="306.20" font-size="7.2" fill="#4a4aff" text-anchor="middle" font-family='"Liberation Serif", serif'>2</text>
<path d="M601.10,293.60 C598.50,296.18 598.50,301.32 601.10,303.90" stroke="#4a4aff" stroke-width="0.8" fill="none"/>
<line x1="605.50" y1="294.00" x2="605.50" y2="303.60" stroke="#4a4aff" stroke-width="0.85" />
<line x1="612.30" y1="294.70" x2="612.30" y2="302.60" stroke="#4a4aff" stroke-width="0.8" />
<path d="M610.20,297.00 Q611.70,295.40 612.30,294.40 Q612.90,295.40 614.40,297.00" stroke="#4a4aff" stroke-width="0.8" fill="none"/>
<line x1="619.80" y1="294.40" x2="619.80" y2="302.30" stroke="#4a4aff" stroke-width="0.8" />
<path d="M617.30,300.00 Q619.20,301.60 619.80,302.60 Q620.40,301.60 622.30,300.00" stroke="#4a4aff" stroke-width="0.8" fill="none"/>
<path d="M624.40,294.00 L627.00,298.80 L624.40,303.60" stroke="#4a4aff" stroke-width="0.75" fill="none"/>
<line x1="631.20" y1="298.60" x2="638.00" y2="298.60" stroke="#4a4aff" stroke-width="0.75" />
<line x1="642.30" y1="294.00" x2="642.30" y2="303.60" stroke="#4a4aff" stroke-width="0.85" />
<line x1="649.60" y1="294.40" x2="649.60" y2="302.30" stroke="#4a4aff" stroke-width="0.8" />
<path d="M647.00,300.00 Q649.00,301.60 649.60,302.60 Q650.20,301.60 652.20,300.00" stroke="#4a4aff" stroke-width="0.8" fill="none"/>
<line x1="656.40" y1="294.70" x2="656.40" y2="302.60" stroke="#4a4aff" stroke-width="0.8" />
<path d="M654.20,297.00 Q655.80,295.40 656.40,294.40 Q657.00,295.40 658.60,297.00" stroke="#4a4aff" stroke-width="0.8" fill="none"/>
<path d="M661.70,294.00 L664.40,298.80 L661.70,303.60" stroke="#4a4aff" stroke-width="0.75" fill="none"/>
<path d="M667.40,293.60 C670.40,296.18 670.40,301.32 667.40,303.90" stroke="#4a4aff" stroke-width="0.8" fill="none"/>
<text x="550.60" y="365.40" font-size="10.5" fill="#ff2424" font-family='"Liberation Serif", serif'><tspan font-style="italic">ψ</tspan><tspan font-style="italic" font-size="7.6" dy="2.3" textLength="14" lengthAdjust="spacingAndGlyphs">nuc</tspan></text>
<line x1="574.10" y1="362.20" x2="581.40" y2="362.20" stroke="#ff2424" stroke-width="0.7" />
<line x1="574.10" y1="364.70" x2="581.40" y2="364.70" stroke="#ff2424" stroke-width="0.7" />
<path d="M591.8,340.8 C589.0,341.0 588.9,342.5 588.9,345.5 L588.9,358.0 C588.9,361.4 588.2,362.4 586.4,362.9 C588.2,363.4 588.9,364.4 588.9,367.8 L588.9,380.6 C588.9,383.6 589.0,385.1 591.8,385.3" stroke="#ff2424" stroke-width="1.25" fill="none"/>
<line x1="595.60" y1="341.00" x2="595.60" y2="349.80" stroke="#ff2424" stroke-width="0.85" />
<line x1="602.50" y1="341.50" x2="602.50" y2="349.20" stroke="#ff2424" stroke-width="0.8" />
<path d="M600.30,343.80 Q601.90,342.20 602.50,341.20 Q603.10,342.20 604.70,343.80" stroke="#ff2424" stroke-width="0.8" fill="none"/>
<line x1="609.45" y1="341.50" x2="609.45" y2="349.20" stroke="#ff2424" stroke-width="0.8" />
<path d="M607.10,343.80 Q608.85,342.20 609.45,341.20 Q610.05,342.20 611.80,343.80" stroke="#ff2424" stroke-width="0.8" fill="none"/>
<path d="M614.30,341.00 L617.00,345.40 L614.30,349.80" stroke="#ff2424" stroke-width="0.75" fill="none"/>
<line x1="596.00" y1="362.10" x2="606.90" y2="362.10" stroke="#ff2424" stroke-width="0.55" />
<text x="601.75" y="360.80" font-size="7.2" fill="#ff2424" text-anchor="middle" font-family='"Liberation Serif", serif'>1</text>
<path d="M596.25,367.30 L597.15,366.80 L598.45,370.00 L600.15,363.80 L606.65,363.80" stroke="#ff2424" stroke-width="0.6" fill="none" stroke-linejoin="round"/>
<text x="603.45" y="370.00" font-size="7.2" fill="#ff2424" text-anchor="middle" font-family='"Liberation Serif", serif'>2</text>
<path d="M610.60,357.80 C608.20,360.40 608.20,365.60 610.60,368.20" stroke="#ff2424" stroke-width="0.8" fill="none"/>
<line x1="614.90" y1="358.20" x2="614.90" y2="367.80" stroke="#ff2424" stroke-width="0.85" />
<line x1="622.25" y1="358.90" x2="622.25" y2="367.20" stroke="#ff2424" stroke-width="0.8" />
<path d="M620.10,361.20 Q621.65,359.60 622.25,358.60 Q622.85,359.60 624.40,361.20" stroke="#ff2424" stroke-width="0.8" fill="none"/>
<line x1="629.15" y1="358.60" x2="629.15" y2="366.90" stroke="#ff2424" stroke-width="0.8" />
<path d="M626.70,364.60 Q628.55,366.20 629.15,367.20 Q629.75,366.20 631.60,364.60" stroke="#ff2424" stroke-width="0.8" fill="none"/>
<path d="M634.00,358.20 L636.70,363.00 L634.00,367.80" stroke="#ff2424" stroke-width="0.75" fill="none"/>
<line x1="641.20" y1="363.00" x2="647.80" y2="363.00" stroke="#ff2424" stroke-width="0.75" />
<line x1="644.50" y1="359.70" x2="644.50" y2="366.30" stroke="#ff2424" stroke-width="0.75" />
<line x1="652.40" y1="358.20" x2="652.40" y2="367.80" stroke="#ff2424" stroke-width="0.85" />
<line x1="659.85" y1="358.60" x2="659.85" y2="366.90" stroke="#ff2424" stroke-width="0.8" />
<path d="M657.40,364.60 Q659.25,366.20 659.85,367.20 Q660.45,366.20 662.30,364.60" stroke="#ff2424" stroke-width="0.8" fill="none"/>
<line x1="667.15" y1="358.90" x2="667.15" y2="367.20" stroke="#ff2424" stroke-width="0.8" />
<path d="M664.70,361.20 Q666.55,359.60 667.15,358.60 Q667.75,359.60 669.60,361.20" stroke="#ff2424" stroke-width="0.8" fill="none"/>
<path d="M671.20,358.20 L674.60,363.00 L671.20,367.80" stroke="#ff2424" stroke-width="0.75" fill="none"/>
<path d="M676.30,357.80 C680.00,360.40 680.00,365.60 676.30,368.20" stroke="#ff2424" stroke-width="0.8" fill="none"/>
<line x1="595.60" y1="376.00" x2="595.60" y2="385.20" stroke="#ff2424" stroke-width="0.85" />
<line x1="602.50" y1="376.40" x2="602.50" y2="384.50" stroke="#ff2424" stroke-width="0.8" />
<path d="M600.30,382.20 Q601.90,383.80 602.50,384.80 Q603.10,383.80 604.70,382.20" stroke="#ff2424" stroke-width="0.8" fill="none"/>
<line x1="609.45" y1="376.40" x2="609.45" y2="384.50" stroke="#ff2424" stroke-width="0.8" />
<path d="M607.10,382.20 Q608.85,383.80 609.45,384.80 Q610.05,383.80 611.80,382.20" stroke="#ff2424" stroke-width="0.8" fill="none"/>
<path d="M614.30,376.00 L617.00,380.60 L614.30,385.20" stroke="#ff2424" stroke-width="0.75" fill="none"/>
</svg></body></html>
